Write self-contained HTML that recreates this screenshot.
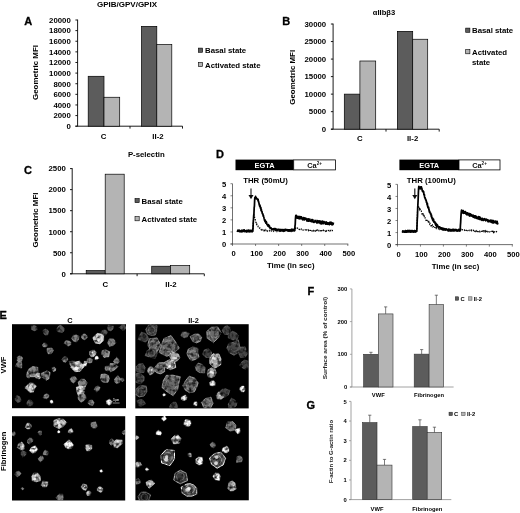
<!DOCTYPE html>
<html><head><meta charset="utf-8"><title>Figure</title>
<style>html,body{margin:0;padding:0;background:#fff}svg{display:block}text{font-family:"Liberation Sans",Arial,sans-serif}</style>
</head><body>
<svg width="520" height="513" viewBox="0 0 520 513">
<defs><filter id="b1" x="-5%" y="-5%" width="110%" height="110%"><feGaussianBlur stdDeviation="0.45"/></filter>
<filter id="tex" x="-2%" y="-2%" width="104%" height="104%"><feTurbulence type="fractalNoise" baseFrequency="0.28" numOctaves="2" seed="4" result="n"/><feColorMatrix in="n" type="matrix" values="0 0 0 0 0  0 0 0 0 0  0 0 0 0 0  2.2 0 0 0 -0.3" result="na"/><feComposite in="SourceGraphic" in2="na" operator="in"/><feGaussianBlur stdDeviation="0.6"/></filter>
<filter id="soft"><feGaussianBlur stdDeviation="0.3"/></filter></defs>
<rect width="520" height="513" fill="#fff"/>
<g filter="url(#soft)">
<text x="24.3" y="25.4" font-size="11" font-weight="bold" text-anchor="start" fill="#000" stroke="#000" stroke-width="0.3">A</text>
<text x="127" y="6.6" font-size="8" font-weight="bold" text-anchor="middle" fill="#000">GPIB/GPV/GPIX</text>
<text x="38.3" y="72.5" font-size="7.9" font-weight="bold" text-anchor="middle" fill="#000" transform="rotate(-90 38.3 72.5)">Geometric MFI</text>
<text x="70.8" y="129.01" font-size="7.8" font-weight="bold" text-anchor="end" fill="#000">0</text>
<text x="70.8" y="118.39" font-size="7.8" font-weight="bold" text-anchor="end" fill="#000">2000</text>
<text x="70.8" y="107.77" font-size="7.8" font-weight="bold" text-anchor="end" fill="#000">4000</text>
<text x="70.8" y="97.15" font-size="7.8" font-weight="bold" text-anchor="end" fill="#000">6000</text>
<text x="70.8" y="86.53" font-size="7.8" font-weight="bold" text-anchor="end" fill="#000">8000</text>
<text x="70.8" y="75.91" font-size="7.8" font-weight="bold" text-anchor="end" fill="#000">10000</text>
<text x="70.8" y="65.29" font-size="7.8" font-weight="bold" text-anchor="end" fill="#000">12000</text>
<text x="70.8" y="54.67" font-size="7.8" font-weight="bold" text-anchor="end" fill="#000">14000</text>
<text x="70.8" y="44.05" font-size="7.8" font-weight="bold" text-anchor="end" fill="#000">16000</text>
<text x="70.8" y="33.43" font-size="7.8" font-weight="bold" text-anchor="end" fill="#000">18000</text>
<text x="70.8" y="22.81" font-size="7.8" font-weight="bold" text-anchor="end" fill="#000">20000</text>
<line x1="77.6" y1="19.6" x2="77.6" y2="126.2" stroke="#000" stroke-width="0.9"/>
<line x1="75.39999999999999" y1="126.2" x2="77.6" y2="126.2" stroke="#000" stroke-width="0.9"/>
<line x1="75.39999999999999" y1="115.58" x2="77.6" y2="115.58" stroke="#000" stroke-width="0.9"/>
<line x1="75.39999999999999" y1="104.96000000000001" x2="77.6" y2="104.96000000000001" stroke="#000" stroke-width="0.9"/>
<line x1="75.39999999999999" y1="94.34" x2="77.6" y2="94.34" stroke="#000" stroke-width="0.9"/>
<line x1="75.39999999999999" y1="83.72" x2="77.6" y2="83.72" stroke="#000" stroke-width="0.9"/>
<line x1="75.39999999999999" y1="73.10000000000001" x2="77.6" y2="73.10000000000001" stroke="#000" stroke-width="0.9"/>
<line x1="75.39999999999999" y1="62.480000000000004" x2="77.6" y2="62.480000000000004" stroke="#000" stroke-width="0.9"/>
<line x1="75.39999999999999" y1="51.860000000000014" x2="77.6" y2="51.860000000000014" stroke="#000" stroke-width="0.9"/>
<line x1="75.39999999999999" y1="41.24000000000001" x2="77.6" y2="41.24000000000001" stroke="#000" stroke-width="0.9"/>
<line x1="75.39999999999999" y1="30.620000000000005" x2="77.6" y2="30.620000000000005" stroke="#000" stroke-width="0.9"/>
<line x1="75.39999999999999" y1="20.000000000000014" x2="77.6" y2="20.000000000000014" stroke="#000" stroke-width="0.9"/>
<line x1="75.39999999999999" y1="126.2" x2="182.5" y2="126.2" stroke="#000" stroke-width="0.9"/>
<line x1="130" y1="126.2" x2="130" y2="128.6" stroke="#000" stroke-width="0.9"/>
<line x1="182.5" y1="126.2" x2="182.5" y2="128.6" stroke="#000" stroke-width="0.9"/>
<rect x="88.20" y="76.29" width="15.80" height="49.91" fill="#5c5c5c" stroke="#000" stroke-width="0.7"/>
<rect x="104.00" y="97.26" width="15.70" height="28.94" fill="#b4b4b4" stroke="#000" stroke-width="0.7"/>
<rect x="141.50" y="26.37" width="15.30" height="99.83" fill="#5c5c5c" stroke="#000" stroke-width="0.7"/>
<rect x="156.80" y="44.43" width="15.00" height="81.77" fill="#b4b4b4" stroke="#000" stroke-width="0.7"/>
<text x="103.6" y="138.6" font-size="7.8" font-weight="bold" text-anchor="middle" fill="#000">C</text>
<text x="158" y="138.6" font-size="7.8" font-weight="bold" text-anchor="middle" fill="#000">II-2</text>
<rect x="198.40" y="48.10" width="4.20" height="4.20" fill="#5c5c5c" stroke="#000" stroke-width="0.6"/>
<text x="205" y="53.2" font-size="7.8" font-weight="bold" text-anchor="start" fill="#000">Basal state</text>
<rect x="198.40" y="62.40" width="4.20" height="4.20" fill="#b4b4b4" stroke="#000" stroke-width="0.6"/>
<text x="205" y="67.5" font-size="7.8" font-weight="bold" text-anchor="start" fill="#000">Activated state</text>
<text x="282.2" y="25.4" font-size="11" font-weight="bold" text-anchor="start" fill="#000" stroke="#000" stroke-width="0.3">B</text>
<text x="384" y="15.0" font-size="7.6" font-weight="bold" text-anchor="middle" fill="#000">αIIbβ3</text>
<text x="295.2" y="77.3" font-size="7.9" font-weight="bold" text-anchor="middle" fill="#000" transform="rotate(-90 295.2 77.3)">Geometric MFI</text>
<text x="326.2" y="132.01" font-size="7.8" font-weight="bold" text-anchor="end" fill="#000">0</text>
<text x="326.2" y="114.47" font-size="7.8" font-weight="bold" text-anchor="end" fill="#000">5000</text>
<text x="326.2" y="96.94" font-size="7.8" font-weight="bold" text-anchor="end" fill="#000">10000</text>
<text x="326.2" y="79.41" font-size="7.8" font-weight="bold" text-anchor="end" fill="#000">15000</text>
<text x="326.2" y="61.87" font-size="7.8" font-weight="bold" text-anchor="end" fill="#000">20000</text>
<text x="326.2" y="44.34" font-size="7.8" font-weight="bold" text-anchor="end" fill="#000">25000</text>
<text x="326.2" y="26.81" font-size="7.8" font-weight="bold" text-anchor="end" fill="#000">30000</text>
<line x1="333.1" y1="23.6" x2="333.1" y2="129.2" stroke="#000" stroke-width="0.9"/>
<line x1="330.90000000000003" y1="129.2" x2="333.1" y2="129.2" stroke="#000" stroke-width="0.9"/>
<line x1="330.90000000000003" y1="111.66999999999999" x2="333.1" y2="111.66999999999999" stroke="#000" stroke-width="0.9"/>
<line x1="330.90000000000003" y1="94.13999999999999" x2="333.1" y2="94.13999999999999" stroke="#000" stroke-width="0.9"/>
<line x1="330.90000000000003" y1="76.60999999999999" x2="333.1" y2="76.60999999999999" stroke="#000" stroke-width="0.9"/>
<line x1="330.90000000000003" y1="59.079999999999984" x2="333.1" y2="59.079999999999984" stroke="#000" stroke-width="0.9"/>
<line x1="330.90000000000003" y1="41.54999999999998" x2="333.1" y2="41.54999999999998" stroke="#000" stroke-width="0.9"/>
<line x1="330.90000000000003" y1="24.019999999999982" x2="333.1" y2="24.019999999999982" stroke="#000" stroke-width="0.9"/>
<line x1="330.90000000000003" y1="129.2" x2="439.2" y2="129.2" stroke="#000" stroke-width="0.9"/>
<line x1="386" y1="129.2" x2="386" y2="131.6" stroke="#000" stroke-width="0.9"/>
<line x1="439.2" y1="129.2" x2="439.2" y2="131.6" stroke="#000" stroke-width="0.9"/>
<rect x="344.30" y="94.13" width="15.60" height="35.07" fill="#5c5c5c" stroke="#000" stroke-width="0.7"/>
<rect x="359.90" y="61.00" width="15.80" height="68.20" fill="#b4b4b4" stroke="#000" stroke-width="0.7"/>
<rect x="397.40" y="31.36" width="15.30" height="97.84" fill="#5c5c5c" stroke="#000" stroke-width="0.7"/>
<rect x="412.70" y="39.25" width="15.00" height="89.95" fill="#b4b4b4" stroke="#000" stroke-width="0.7"/>
<text x="359.8" y="141.4" font-size="7.8" font-weight="bold" text-anchor="middle" fill="#000">C</text>
<text x="412.6" y="141.4" font-size="7.8" font-weight="bold" text-anchor="middle" fill="#000">II-2</text>
<rect x="465.70" y="28.10" width="4.20" height="4.20" fill="#5c5c5c" stroke="#000" stroke-width="0.6"/>
<text x="472" y="33.2" font-size="7.8" font-weight="bold" text-anchor="start" fill="#000">Basal state</text>
<rect x="465.70" y="49.60" width="4.20" height="4.20" fill="#b4b4b4" stroke="#000" stroke-width="0.6"/>
<text x="472" y="54.8" font-size="7.8" font-weight="bold" text-anchor="start" fill="#000">Activated</text>
<text x="472" y="64.6" font-size="7.8" font-weight="bold" text-anchor="start" fill="#000">state</text>
<text x="24" y="173.6" font-size="11" font-weight="bold" text-anchor="start" fill="#000" stroke="#000" stroke-width="0.3">C</text>
<text x="146.3" y="156.5" font-size="7.8" font-weight="bold" text-anchor="middle" fill="#000">P-selectin</text>
<text x="38.4" y="220" font-size="7.9" font-weight="bold" text-anchor="middle" fill="#000" transform="rotate(-90 38.4 220)">Geometric MFI</text>
<text x="65.9" y="276.61" font-size="7.8" font-weight="bold" text-anchor="end" fill="#000">0</text>
<text x="65.9" y="255.57" font-size="7.8" font-weight="bold" text-anchor="end" fill="#000">500</text>
<text x="65.9" y="234.53" font-size="7.8" font-weight="bold" text-anchor="end" fill="#000">1000</text>
<text x="65.9" y="213.49" font-size="7.8" font-weight="bold" text-anchor="end" fill="#000">1500</text>
<text x="65.9" y="192.45" font-size="7.8" font-weight="bold" text-anchor="end" fill="#000">2000</text>
<text x="65.9" y="171.41" font-size="7.8" font-weight="bold" text-anchor="end" fill="#000">2500</text>
<line x1="72.2" y1="168.2" x2="72.2" y2="273.8" stroke="#000" stroke-width="0.9"/>
<line x1="70.0" y1="273.8" x2="72.2" y2="273.8" stroke="#000" stroke-width="0.9"/>
<line x1="70.0" y1="252.76000000000002" x2="72.2" y2="252.76000000000002" stroke="#000" stroke-width="0.9"/>
<line x1="70.0" y1="231.72000000000003" x2="72.2" y2="231.72000000000003" stroke="#000" stroke-width="0.9"/>
<line x1="70.0" y1="210.68" x2="72.2" y2="210.68" stroke="#000" stroke-width="0.9"/>
<line x1="70.0" y1="189.64000000000001" x2="72.2" y2="189.64000000000001" stroke="#000" stroke-width="0.9"/>
<line x1="70.0" y1="168.60000000000002" x2="72.2" y2="168.60000000000002" stroke="#000" stroke-width="0.9"/>
<line x1="70.0" y1="273.8" x2="204.3" y2="273.8" stroke="#000" stroke-width="0.9"/>
<line x1="137.1" y1="273.8" x2="137.1" y2="276.2" stroke="#000" stroke-width="0.9"/>
<line x1="204.3" y1="273.8" x2="204.3" y2="276.2" stroke="#000" stroke-width="0.9"/>
<rect x="86.20" y="270.60" width="19.00" height="3.20" fill="#5c5c5c" stroke="#000" stroke-width="0.7"/>
<rect x="105.20" y="174.20" width="19.00" height="99.60" fill="#b4b4b4" stroke="#000" stroke-width="0.7"/>
<rect x="151.70" y="266.23" width="18.70" height="7.57" fill="#5c5c5c" stroke="#000" stroke-width="0.7"/>
<rect x="170.40" y="265.59" width="19.30" height="8.21" fill="#b4b4b4" stroke="#000" stroke-width="0.7"/>
<text x="105.2" y="286.8" font-size="7.8" font-weight="bold" text-anchor="middle" fill="#000">C</text>
<text x="171" y="286.8" font-size="7.8" font-weight="bold" text-anchor="middle" fill="#000">II-2</text>
<rect x="135.00" y="198.50" width="4.20" height="4.20" fill="#5c5c5c" stroke="#000" stroke-width="0.6"/>
<text x="141.6" y="203.6" font-size="7.8" font-weight="bold" text-anchor="start" fill="#000">Basal state</text>
<rect x="135.00" y="216.60" width="4.20" height="4.20" fill="#b4b4b4" stroke="#000" stroke-width="0.6"/>
<text x="141.6" y="221.7" font-size="7.8" font-weight="bold" text-anchor="start" fill="#000">Activated state</text>
<text x="216" y="157.8" font-size="11" font-weight="bold" text-anchor="start" fill="#000" stroke="#000" stroke-width="0.3">D</text>
<rect x="235.50" y="159.60" width="58.20" height="10.60" fill="#000"/>
<rect x="293.70" y="159.90" width="41.80" height="10.00" fill="#fff" stroke="#000" stroke-width="0.8"/>
<text x="264.6" y="167.6" font-size="7.4" font-weight="bold" text-anchor="middle" fill="#fff">EGTA</text>
<text x="314.6" y="167.7" font-size="7.4" font-weight="bold" text-anchor="middle" fill="#111" >Ca<tspan font-size="4.6" dy="-2.8">2+</tspan></text>
<line x1="232.5" y1="183.7" x2="232.5" y2="244" stroke="#333" stroke-width="0.7"/>
<line x1="230.5" y1="244.0" x2="232.5" y2="244.0" stroke="#333" stroke-width="0.6"/>
<text x="226.2" y="247.14" font-size="7.6" font-weight="bold" text-anchor="end" fill="#000">0</text>
<line x1="230.5" y1="231.94" x2="232.5" y2="231.94" stroke="#333" stroke-width="0.6"/>
<text x="226.2" y="235.08" font-size="7.6" font-weight="bold" text-anchor="end" fill="#000">1</text>
<line x1="230.5" y1="219.88" x2="232.5" y2="219.88" stroke="#333" stroke-width="0.6"/>
<text x="226.2" y="223.02" font-size="7.6" font-weight="bold" text-anchor="end" fill="#000">2</text>
<line x1="230.5" y1="207.82" x2="232.5" y2="207.82" stroke="#333" stroke-width="0.6"/>
<text x="226.2" y="210.96" font-size="7.6" font-weight="bold" text-anchor="end" fill="#000">3</text>
<line x1="230.5" y1="195.76" x2="232.5" y2="195.76" stroke="#333" stroke-width="0.6"/>
<text x="226.2" y="198.9" font-size="7.6" font-weight="bold" text-anchor="end" fill="#000">4</text>
<line x1="230.5" y1="183.7" x2="232.5" y2="183.7" stroke="#333" stroke-width="0.6"/>
<text x="226.2" y="186.84" font-size="7.6" font-weight="bold" text-anchor="end" fill="#000">5</text>
<line x1="230.5" y1="244" x2="348.3" y2="244" stroke="#333" stroke-width="0.7"/>
<line x1="232.5" y1="244" x2="232.5" y2="246" stroke="#333" stroke-width="0.6"/>
<text x="233.5" y="256" font-size="7.6" font-weight="bold" text-anchor="middle" fill="#000">0</text>
<line x1="255.56" y1="244" x2="255.56" y2="246" stroke="#333" stroke-width="0.6"/>
<text x="256.56" y="256" font-size="7.6" font-weight="bold" text-anchor="middle" fill="#000">100</text>
<line x1="278.62" y1="244" x2="278.62" y2="246" stroke="#333" stroke-width="0.6"/>
<text x="279.62" y="256" font-size="7.6" font-weight="bold" text-anchor="middle" fill="#000">200</text>
<line x1="301.68" y1="244" x2="301.68" y2="246" stroke="#333" stroke-width="0.6"/>
<text x="302.68" y="256" font-size="7.6" font-weight="bold" text-anchor="middle" fill="#000">300</text>
<line x1="324.74" y1="244" x2="324.74" y2="246" stroke="#333" stroke-width="0.6"/>
<text x="325.74" y="256" font-size="7.6" font-weight="bold" text-anchor="middle" fill="#000">400</text>
<line x1="347.8" y1="244" x2="347.8" y2="246" stroke="#333" stroke-width="0.6"/>
<text x="348.8" y="256" font-size="7.6" font-weight="bold" text-anchor="middle" fill="#000">500</text>
<text x="290.75" y="268.3" font-size="7.8" font-weight="bold" text-anchor="middle" fill="#000">Time (in sec)</text>
<text x="243.2" y="182.8" font-size="7.8" font-weight="bold" text-anchor="start" fill="#000">THR (50mU)</text>
<line x1="251" y1="188.4" x2="251" y2="196" stroke="#111" stroke-width="1.1"/>
<path d="M248.5,195 L253.5,195 L251,199.2 Z" fill="#111"/>
<polyline points="237.11,231.19 237.46,231.40 237.80,230.79 238.15,231.49 238.50,230.93 238.84,231.14 239.19,231.51 239.53,230.97 239.88,231.53 240.23,231.06 240.57,231.49 240.92,231.47 241.26,231.07 241.61,230.58 241.95,231.43 242.30,231.31 242.65,230.82 242.99,230.44 243.34,230.88 243.68,231.10 244.03,230.40 244.38,231.52 244.72,230.54 245.07,231.23 245.41,231.40 245.76,231.44 246.11,231.21 246.45,230.59 246.80,231.36 247.14,230.88 247.49,230.81 247.83,231.13 248.18,230.92 248.53,231.50 248.87,231.51 249.22,231.33 249.56,230.76 249.91,231.06 250.26,231.20 250.60,230.87 250.95,231.03 251.29,231.22 251.64,230.62 251.99,230.74 252.33,231.28 252.68,230.89 253.02,227.52 253.37,221.69 253.72,216.83 254.06,214.90 254.41,215.33 254.75,218.57 255.10,219.40 255.44,220.00 255.79,222.28 256.14,222.63 256.48,224.38 256.83,223.95 257.17,224.47 257.52,225.47 257.87,225.72 258.21,226.89 258.56,226.87 258.90,227.39 259.25,227.76 259.60,228.22 259.94,228.04 260.29,228.16 260.63,228.95 260.98,228.92 261.32,229.82 261.67,229.21 262.02,229.41 262.36,229.12 262.71,229.44 263.05,230.18 263.40,230.15 263.75,229.89 264.09,230.74 264.44,230.27 264.78,230.68 265.13,230.79 265.48,230.91 265.82,230.09 266.17,230.89 266.51,230.78 266.86,230.64 267.21,230.08 267.55,231.06 267.90,230.63 268.24,230.53 268.59,230.14 268.93,230.24 269.28,230.19 269.63,230.91 269.97,230.76 270.32,230.83 270.66,230.21 271.01,230.13 271.36,231.10 271.70,231.08 272.05,231.02 272.39,231.02 272.74,230.72 273.09,230.60 273.43,230.99 273.78,231.31 274.12,230.81 274.47,230.87 274.82,230.64 275.16,230.17 275.51,230.49 275.85,230.70 276.20,230.58 276.54,230.51 276.89,231.26 277.24,230.25 277.58,230.39 277.93,230.28 278.27,230.37 278.62,230.86 278.97,230.85 279.31,231.21 279.66,230.57 280.00,231.26 280.35,231.25 280.70,231.08 281.04,231.14 281.39,230.93 281.73,231.27 282.08,231.34 282.42,231.15 282.77,231.21 283.12,230.90 283.46,231.31 283.81,230.28 284.15,230.60 284.50,231.16 284.85,231.03 285.19,230.92 285.54,230.90 285.88,231.19 286.23,230.31 286.58,230.14 286.92,230.77 287.27,230.75 287.61,231.23 287.96,231.21 288.31,230.92 288.65,231.02 289.00,230.34 289.34,231.14 289.69,231.31 290.03,230.19 290.38,230.70 290.73,231.16 291.07,230.68 291.42,231.30 291.76,230.70 292.11,230.16 292.46,230.30 292.80,230.50 293.15,231.02 293.49,230.89 293.84,231.14 294.19,230.41 294.53,230.69 294.88,230.02 295.22,229.43 295.57,228.43 295.92,227.44 296.26,227.38 296.61,227.67 296.95,227.85 297.30,227.96 297.64,228.17 297.99,228.90 298.34,228.66 298.68,228.95 299.03,229.44 299.37,229.53 299.72,229.32 300.07,229.42 300.41,228.98 300.76,228.74 301.10,229.42 301.45,228.90 301.80,228.90 302.14,229.00 302.49,229.77 302.83,230.00 303.18,230.04 303.52,230.13 303.87,230.17 304.22,229.71 304.56,229.42 304.91,229.53 305.25,230.00 305.60,229.83 305.95,229.69 306.29,230.58 306.64,229.92 306.98,229.65 307.33,229.83 307.68,229.90 308.02,230.25 308.37,230.64 308.71,229.93 309.06,230.50 309.41,229.96 309.75,229.77 310.10,230.48 310.44,230.50 310.79,229.86 311.13,230.14 311.48,230.82 311.83,230.89 312.17,230.88 312.52,229.98 312.86,230.11 313.21,230.92 313.56,230.11 313.90,229.94 314.25,230.34 314.59,230.72 314.94,230.49 315.29,231.00 315.63,231.15 315.98,230.01 316.32,230.40 316.67,230.56 317.01,230.07 317.36,230.68 317.71,230.16 318.05,230.22 318.40,230.97 318.74,230.93 319.09,230.88 319.44,230.95 319.78,230.54 320.13,230.94 320.47,230.75 320.82,231.10 321.17,230.16 321.51,230.84 321.86,230.72 322.20,230.57 322.55,230.18 322.90,230.77 323.24,230.17 323.59,230.68 323.93,230.64 324.28,230.66 324.62,231.27 324.97,230.76 325.32,231.07 325.66,231.29 326.01,230.34 326.35,231.09 326.70,230.73 327.05,230.43 327.39,230.64 327.74,230.91 328.08,230.68 328.43,230.64 328.78,230.37 329.12,231.19 329.47,230.64 329.81,231.02 330.16,230.98 330.50,230.39 330.85,230.71 331.20,230.64 331.54,230.40 331.89,230.22 332.23,230.79 332.58,230.58 332.93,230.71 333.27,230.71" fill="none" stroke="#000" stroke-width="1.15" stroke-dasharray="1.5 1.2"/>
<polyline points="237.11,230.65 237.34,231.06 237.57,230.92 237.80,231.01 238.03,230.23 238.26,230.64 238.50,230.34 238.73,230.23 238.96,231.38 239.19,230.87 239.42,230.23 239.65,230.40 239.88,231.59 240.11,231.61 240.34,231.07 240.57,231.70 240.80,231.41 241.03,231.70 241.26,230.69 241.49,230.50 241.72,230.30 241.95,231.56 242.19,230.61 242.42,230.70 242.65,231.58 242.88,230.33 243.11,230.19 243.34,231.45 243.57,230.21 243.80,231.15 244.03,231.00 244.26,230.15 244.49,230.41 244.72,231.55 244.95,231.09 245.18,230.95 245.41,231.25 245.64,231.49 245.87,231.28 246.11,230.60 246.34,231.79 246.57,230.88 246.80,231.08 247.03,231.79 247.26,231.26 247.49,230.77 247.72,230.95 247.95,231.71 248.18,230.16 248.41,230.49 248.64,230.18 248.87,231.64 249.10,231.37 249.33,231.75 249.56,230.50 249.80,231.36 250.03,231.60 250.26,231.11 250.49,230.28 250.72,230.44 250.95,231.38 251.18,231.57 251.41,230.27 251.64,230.86 251.87,230.64 252.10,231.67 252.33,231.72 252.56,230.66 252.79,231.10 253.02,227.99 253.25,222.37 253.48,219.48 253.72,215.31 253.95,213.54 254.18,207.74 254.41,206.16 254.64,200.30 254.87,197.69 255.10,198.00 255.33,197.43 255.56,196.42 255.79,198.20 256.02,198.57 256.25,197.50 256.48,198.28 256.71,198.62 256.94,198.66 257.17,199.29 257.40,199.30 257.64,199.48 257.87,200.05 258.10,199.41 258.33,201.30 258.56,201.39 258.79,202.95 259.02,203.20 259.25,204.81 259.48,204.92 259.71,206.31 259.94,205.12 260.17,206.37 260.40,208.11 260.63,208.09 260.86,207.60 261.09,210.59 261.32,209.40 261.56,211.18 261.79,211.73 262.02,211.52 262.25,213.41 262.48,213.79 262.71,213.97 262.94,213.83 263.17,216.19 263.40,215.49 263.63,216.44 263.86,217.21 264.09,218.41 264.32,219.12 264.55,220.44 264.78,220.76 265.01,221.42 265.25,220.09 265.48,221.86 265.71,222.56 265.94,223.20 266.17,221.57 266.40,221.89 266.63,222.81 266.86,224.23 267.09,224.68 267.32,224.88 267.55,224.75 267.78,225.87 268.01,225.38 268.24,226.15 268.47,224.53 268.70,225.23 268.93,226.19 269.17,226.93 269.40,225.92 269.63,227.24 269.86,227.35 270.09,228.14 270.32,227.67 270.55,227.68 270.78,227.78 271.01,228.44 271.24,228.07 271.47,229.04 271.70,228.73 271.93,229.14 272.16,228.73 272.39,229.43 272.62,229.56 272.86,229.18 273.09,229.39 273.32,228.87 273.55,229.04 273.78,228.74 274.01,228.96 274.24,228.93 274.47,228.71 274.70,229.59 274.93,229.75 275.16,228.69 275.39,230.14 275.62,229.21 275.85,229.39 276.08,230.44 276.31,229.14 276.54,229.07 276.78,229.55 277.01,229.40 277.24,229.29 277.47,230.45 277.70,229.82 277.93,229.87 278.16,229.34 278.39,229.40 278.62,229.38 278.85,229.81 279.08,229.30 279.31,229.67 279.54,229.66 279.77,230.46 280.00,230.80 280.23,230.64 280.46,230.27 280.70,230.71 280.93,229.48 281.16,229.95 281.39,229.84 281.62,229.85 281.85,229.77 282.08,230.09 282.31,230.92 282.54,229.58 282.77,229.67 283.00,230.09 283.23,230.04 283.46,229.83 283.69,230.83 283.92,229.70 284.15,230.52 284.38,230.83 284.62,230.51 284.85,229.72 285.08,230.61 285.31,229.71 285.54,229.31 285.77,230.13 286.00,230.32 286.23,230.16 286.46,229.81 286.69,229.67 286.92,229.93 287.15,229.88 287.38,230.84 287.61,230.72 287.84,230.54 288.07,229.72 288.31,230.46 288.54,230.01 288.77,230.95 289.00,230.87 289.23,230.52 289.46,229.84 289.69,229.80 289.92,229.83 290.15,230.48 290.38,230.10 290.61,230.19 290.84,230.19 291.07,230.77 291.30,229.47 291.53,230.64 291.76,229.32 291.99,229.39 292.23,230.94 292.46,230.20 292.69,229.59 292.92,229.34 293.15,230.22 293.38,230.52 293.61,230.62 293.84,229.38 294.07,230.62 294.30,229.99 294.53,230.74 294.76,230.45 294.99,226.17 295.22,224.37 295.45,218.95 295.68,216.24 295.92,215.30 296.15,215.89 296.38,217.25 296.61,215.53 296.84,216.73 297.07,218.06 297.30,218.20 297.53,216.96 297.76,217.15 297.99,217.64 298.22,218.15 298.45,217.68 298.68,217.83 298.91,216.50 299.14,218.84 299.37,216.89 299.60,216.73 299.84,218.74 300.07,216.64 300.30,217.29 300.53,216.85 300.76,218.58 300.99,218.43 301.22,218.44 301.45,216.88 301.68,218.05 301.91,218.74 302.14,218.62 302.37,219.11 302.60,219.79 302.83,219.71 303.06,217.79 303.29,219.34 303.52,217.65 303.76,219.57 303.99,219.59 304.22,218.99 304.45,219.92 304.68,219.48 304.91,217.97 305.14,218.23 305.37,218.48 305.60,219.03 305.83,218.33 306.06,218.31 306.29,219.43 306.52,219.02 306.75,220.89 306.98,219.10 307.21,219.92 307.44,219.16 307.68,219.51 307.91,220.53 308.14,221.22 308.37,218.91 308.60,221.12 308.83,220.24 309.06,220.64 309.29,220.81 309.52,219.67 309.75,219.08 309.98,221.07 310.21,220.05 310.44,221.06 310.67,220.41 310.90,220.90 311.13,221.56 311.37,221.62 311.60,221.55 311.83,219.71 312.06,220.86 312.29,221.65 312.52,219.84 312.75,219.65 312.98,221.17 313.21,222.05 313.44,221.95 313.67,222.27 313.90,221.63 314.13,222.35 314.36,221.99 314.59,221.98 314.82,221.19 315.05,220.37 315.29,220.78 315.52,221.73 315.75,221.77 315.98,221.51 316.21,221.95 316.44,222.09 316.67,222.87 316.90,222.33 317.13,220.50 317.36,222.82 317.59,221.83 317.82,221.53 318.05,220.94 318.28,222.72 318.51,222.61 318.74,222.70 318.98,222.33 319.21,222.24 319.44,220.90 319.67,221.22 319.90,221.19 320.13,223.52 320.36,223.53 320.59,221.73 320.82,221.26 321.05,222.43 321.28,222.16 321.51,223.77 321.74,222.75 321.97,221.33 322.20,221.64 322.43,221.59 322.66,221.30 322.90,223.29 323.13,223.70 323.36,223.60 323.59,222.64 323.82,222.24 324.05,221.56 324.28,222.19 324.51,222.42 324.74,222.13 324.97,222.98 325.20,222.76 325.43,224.17 325.66,222.19 325.89,223.70 326.12,221.87 326.35,222.64 326.58,223.59 326.82,224.09 327.05,223.78 327.28,222.77 327.51,222.62 327.74,224.23 327.97,224.37 328.20,223.17 328.43,223.03 328.66,223.58 328.89,224.05 329.12,223.05 329.35,224.67 329.58,223.91 329.81,223.50 330.04,222.18 330.27,223.05 330.50,222.43 330.74,223.55 330.97,224.23 331.20,224.21 331.43,222.31 331.66,223.02 331.89,224.12 332.12,224.91 332.35,223.64 332.58,223.19 332.81,223.89 333.04,224.35 333.27,223.27 333.50,222.59" fill="none" stroke="#000" stroke-width="1.75" stroke-linejoin="round"/>
<rect x="399.40" y="159.60" width="59.60" height="10.60" fill="#000"/>
<rect x="459.00" y="159.90" width="41.00" height="10.00" fill="#fff" stroke="#000" stroke-width="0.8"/>
<text x="429.2" y="167.6" font-size="7.4" font-weight="bold" text-anchor="middle" fill="#fff">EGTA</text>
<text x="479.5" y="167.7" font-size="7.4" font-weight="bold" text-anchor="middle" fill="#111" >Ca<tspan font-size="4.6" dy="-2.8">2+</tspan></text>
<line x1="397.5" y1="184.4" x2="397.5" y2="244.6" stroke="#333" stroke-width="0.7"/>
<line x1="395.5" y1="244.6" x2="397.5" y2="244.6" stroke="#333" stroke-width="0.6"/>
<text x="391.2" y="247.74" font-size="7.6" font-weight="bold" text-anchor="end" fill="#000">0</text>
<line x1="395.5" y1="232.56" x2="397.5" y2="232.56" stroke="#333" stroke-width="0.6"/>
<text x="391.2" y="235.7" font-size="7.6" font-weight="bold" text-anchor="end" fill="#000">1</text>
<line x1="395.5" y1="220.52" x2="397.5" y2="220.52" stroke="#333" stroke-width="0.6"/>
<text x="391.2" y="223.66" font-size="7.6" font-weight="bold" text-anchor="end" fill="#000">2</text>
<line x1="395.5" y1="208.48000000000002" x2="397.5" y2="208.48000000000002" stroke="#333" stroke-width="0.6"/>
<text x="391.2" y="211.62" font-size="7.6" font-weight="bold" text-anchor="end" fill="#000">3</text>
<line x1="395.5" y1="196.44" x2="397.5" y2="196.44" stroke="#333" stroke-width="0.6"/>
<text x="391.2" y="199.58" font-size="7.6" font-weight="bold" text-anchor="end" fill="#000">4</text>
<line x1="395.5" y1="184.4" x2="397.5" y2="184.4" stroke="#333" stroke-width="0.6"/>
<text x="391.2" y="187.54" font-size="7.6" font-weight="bold" text-anchor="end" fill="#000">5</text>
<line x1="395.5" y1="244.6" x2="512.8" y2="244.6" stroke="#333" stroke-width="0.7"/>
<line x1="397.5" y1="244.6" x2="397.5" y2="246.6" stroke="#333" stroke-width="0.6"/>
<text x="398.5" y="256.6" font-size="7.6" font-weight="bold" text-anchor="middle" fill="#000">0</text>
<line x1="420.46" y1="244.6" x2="420.46" y2="246.6" stroke="#333" stroke-width="0.6"/>
<text x="421.46" y="256.6" font-size="7.6" font-weight="bold" text-anchor="middle" fill="#000">100</text>
<line x1="443.41999999999996" y1="244.6" x2="443.41999999999996" y2="246.6" stroke="#333" stroke-width="0.6"/>
<text x="444.42" y="256.6" font-size="7.6" font-weight="bold" text-anchor="middle" fill="#000">200</text>
<line x1="466.38" y1="244.6" x2="466.38" y2="246.6" stroke="#333" stroke-width="0.6"/>
<text x="467.38" y="256.6" font-size="7.6" font-weight="bold" text-anchor="middle" fill="#000">300</text>
<line x1="489.34" y1="244.6" x2="489.34" y2="246.6" stroke="#333" stroke-width="0.6"/>
<text x="490.34" y="256.6" font-size="7.6" font-weight="bold" text-anchor="middle" fill="#000">400</text>
<line x1="512.3" y1="244.6" x2="512.3" y2="246.6" stroke="#333" stroke-width="0.6"/>
<text x="513.3" y="256.6" font-size="7.6" font-weight="bold" text-anchor="middle" fill="#000">500</text>
<text x="455.5" y="268.9" font-size="7.8" font-weight="bold" text-anchor="middle" fill="#000">Time (in sec)</text>
<text x="406.8" y="182.8" font-size="7.8" font-weight="bold" text-anchor="start" fill="#000">THR (100mU)</text>
<line x1="414.8" y1="188.4" x2="414.8" y2="196" stroke="#111" stroke-width="1.1"/>
<path d="M412.3,195 L417.3,195 L414.8,199.2 Z" fill="#111"/>
<polyline points="402.09,231.68 402.44,231.92 402.78,231.55 403.13,231.45 403.47,231.14 403.81,231.72 404.16,231.00 404.50,231.07 404.85,231.35 405.19,231.71 405.54,230.79 405.88,231.58 406.22,230.97 406.57,231.68 406.91,231.69 407.26,231.04 407.60,231.60 407.95,230.81 408.29,231.36 408.64,231.73 408.98,231.69 409.32,231.46 409.67,231.16 410.01,230.82 410.36,231.78 410.70,231.48 411.05,231.70 411.39,230.79 411.74,231.79 412.08,231.90 412.42,231.89 412.77,231.48 413.11,230.88 413.46,230.89 413.80,231.08 414.15,230.76 414.49,230.84 414.83,231.56 415.18,231.73 415.52,230.83 415.87,231.06 416.21,231.92 416.56,231.16 416.90,228.19 417.25,218.35 417.59,208.50 417.93,205.80 418.28,206.69 418.62,206.79 418.97,207.32 419.31,206.84 419.66,209.13 420.00,208.21 420.35,210.36 420.69,210.77 421.03,210.55 421.38,211.23 421.72,212.64 422.07,214.03 422.41,213.85 422.76,214.66 423.10,214.22 423.44,216.21 423.79,216.46 424.13,215.99 424.48,218.21 424.82,218.00 425.17,217.74 425.51,218.33 425.86,220.21 426.20,220.68 426.54,221.08 426.89,219.86 427.23,221.56 427.58,221.02 427.92,221.12 428.27,222.58 428.61,223.07 428.96,222.10 429.30,223.09 429.64,224.10 429.99,223.54 430.33,224.61 430.68,224.98 431.02,225.78 431.37,224.59 431.71,224.54 432.05,225.33 432.40,224.97 432.74,226.96 433.09,226.77 433.43,226.52 433.78,226.12 434.12,226.31 434.47,227.18 434.81,227.51 435.15,227.46 435.50,227.55 435.84,227.18 436.19,228.22 436.53,227.61 436.88,227.82 437.22,227.85 437.57,228.03 437.91,228.34 438.25,228.79 438.60,228.91 438.94,228.96 439.29,228.55 439.63,229.49 439.98,229.43 440.32,228.85 440.66,229.53 441.01,229.83 441.35,229.94 441.70,229.38 442.04,229.72 442.39,229.00 442.73,229.17 443.08,229.10 443.42,230.03 443.76,230.30 444.11,230.33 444.45,229.89 444.80,229.68 445.14,230.04 445.49,230.34 445.83,230.16 446.18,229.95 446.52,229.92 446.86,229.86 447.21,229.77 447.55,230.02 447.90,230.70 448.24,229.86 448.59,230.55 448.93,230.24 449.27,230.50 449.62,230.08 449.96,230.75 450.31,230.71 450.65,230.73 451.00,230.86 451.34,230.00 451.69,230.38 452.03,230.70 452.37,230.63 452.72,229.93 453.06,230.52 453.41,230.87 453.75,230.18 454.10,230.38 454.44,229.98 454.79,231.06 455.13,230.62 455.47,230.22 455.82,230.20 456.16,230.12 456.51,231.18 456.85,230.88 457.20,231.10 457.54,231.02 457.88,230.08 458.23,230.56 458.57,230.15 458.92,230.82 459.26,230.23 459.61,230.74 459.95,230.97 460.30,228.64 460.64,228.51 460.98,229.59 461.33,229.07 461.67,229.11 462.02,229.66 462.36,229.55 462.71,229.88 463.05,229.87 463.40,229.87 463.74,229.51 464.08,229.51 464.43,230.10 464.77,230.39 465.12,230.06 465.46,229.69 465.81,230.34 466.15,230.23 466.49,230.41 466.84,229.75 467.18,230.09 467.53,230.72 467.87,230.72 468.22,230.40 468.56,230.26 468.91,230.19 469.25,230.89 469.59,230.84 469.94,230.24 470.28,230.62 470.63,230.81 470.97,230.81 471.32,230.07 471.66,230.88 472.01,230.60 472.35,230.89 472.69,230.84 473.04,230.34 473.38,230.21 473.73,231.00 474.07,231.22 474.42,230.61 474.76,231.27 475.10,231.53 475.45,230.48 475.79,231.08 476.14,230.63 476.48,231.15 476.83,230.60 477.17,231.13 477.52,231.51 477.86,231.71 478.20,231.08 478.55,231.00 478.89,230.69 479.24,231.70 479.58,231.07 479.93,231.40 480.27,231.25 480.62,231.70 480.96,231.55 481.30,231.28 481.65,230.81 481.99,231.81 482.34,231.37 482.68,231.00 483.03,230.82 483.37,231.76 483.71,231.86 484.06,230.89 484.40,230.87 484.75,231.47 485.09,232.00 485.44,230.96 485.78,231.62 486.13,231.01 486.47,231.37 486.81,231.13 487.16,231.94 487.50,231.20 487.85,231.89 488.19,231.68 488.54,231.16 488.88,231.19 489.23,231.97 489.57,231.94 489.91,231.73 490.26,231.60 490.60,231.77 490.95,232.09 491.29,231.95 491.64,231.38 491.98,231.18 492.32,232.22 492.67,231.60 493.01,231.37 493.36,232.24 493.70,231.29 494.05,232.16 494.39,231.59 494.74,231.65 495.08,231.57 495.42,231.96 495.77,231.83 496.11,231.64 496.46,231.83 496.80,231.56 497.15,231.82 497.49,231.83 497.84,232.34" fill="none" stroke="#000" stroke-width="1.15" stroke-dasharray="1.5 1.2"/>
<polyline points="402.09,231.16 402.32,231.37 402.55,231.80 402.78,230.91 403.01,230.88 403.24,231.43 403.47,231.90 403.70,231.40 403.93,232.02 404.16,231.98 404.39,231.47 404.62,232.04 404.85,231.45 405.08,231.34 405.31,232.13 405.54,231.13 405.77,232.06 406.00,230.96 406.22,230.89 406.45,231.34 406.68,232.11 406.91,231.35 407.14,231.56 407.37,230.60 407.60,231.97 407.83,230.75 408.06,230.52 408.29,230.96 408.52,230.83 408.75,231.87 408.98,230.54 409.21,231.37 409.44,230.59 409.67,230.65 409.90,231.92 410.13,230.87 410.36,230.63 410.59,232.09 410.82,231.61 411.05,230.92 411.28,231.93 411.51,230.69 411.74,231.74 411.96,230.82 412.19,231.96 412.42,231.35 412.65,230.65 412.88,231.85 413.11,231.76 413.34,231.35 413.57,231.66 413.80,232.14 414.03,231.89 414.26,231.93 414.49,230.62 414.72,231.05 414.95,230.69 415.18,231.91 415.41,230.88 415.64,232.00 415.87,231.30 416.10,231.13 416.33,231.59 416.56,230.73 416.79,231.26 417.02,225.69 417.25,219.43 417.48,216.08 417.70,208.23 417.93,203.77 418.16,198.95 418.39,192.42 418.62,188.41 418.85,186.45 419.08,187.56 419.31,188.15 419.54,187.06 419.77,187.93 420.00,188.64 420.23,187.11 420.46,188.99 420.69,186.91 420.92,188.44 421.15,187.50 421.38,186.78 421.61,188.13 421.84,188.27 422.07,189.61 422.30,190.89 422.53,191.29 422.76,191.50 422.99,190.79 423.22,191.87 423.44,192.26 423.67,191.86 423.90,194.58 424.13,194.99 424.36,194.53 424.59,196.94 424.82,197.70 425.05,197.48 425.28,198.88 425.51,198.95 425.74,200.05 425.97,199.83 426.20,200.56 426.43,202.35 426.66,201.97 426.89,203.12 427.12,204.78 427.35,203.36 427.58,205.96 427.81,206.94 428.04,207.81 428.27,207.06 428.50,207.13 428.73,208.07 428.96,209.77 429.18,210.82 429.41,212.16 429.64,211.11 429.87,211.97 430.10,213.16 430.33,212.98 430.56,214.13 430.79,213.38 431.02,214.50 431.25,216.37 431.48,215.15 431.71,218.00 431.94,217.21 432.17,218.05 432.40,218.99 432.63,219.95 432.86,218.47 433.09,220.99 433.32,219.97 433.55,219.34 433.78,221.90 434.01,222.14 434.24,221.42 434.47,222.07 434.70,222.06 434.92,221.94 435.15,224.00 435.38,223.95 435.61,224.28 435.84,225.26 436.07,223.28 436.30,223.84 436.53,224.29 436.76,226.45 436.99,224.44 437.22,224.94 437.45,225.92 437.68,225.39 437.91,226.37 438.14,227.18 438.37,227.29 438.60,227.26 438.83,227.76 439.06,227.42 439.29,226.88 439.52,227.13 439.75,227.02 439.98,227.38 440.21,228.26 440.44,227.90 440.66,228.22 440.89,227.73 441.12,228.29 441.35,228.82 441.58,228.29 441.81,227.83 442.04,229.18 442.27,228.15 442.50,229.68 442.73,229.34 442.96,229.46 443.19,228.67 443.42,228.39 443.65,228.79 443.88,229.55 444.11,228.67 444.34,229.65 444.57,229.85 444.80,228.77 445.03,229.28 445.26,229.21 445.49,229.30 445.72,228.81 445.95,229.70 446.18,229.11 446.40,229.38 446.63,229.13 446.86,229.87 447.09,229.41 447.32,229.69 447.55,230.16 447.78,230.34 448.01,229.67 448.24,230.60 448.47,229.22 448.70,230.53 448.93,230.74 449.16,230.62 449.39,229.25 449.62,230.24 449.85,230.60 450.08,230.80 450.31,230.79 450.54,229.70 450.77,229.81 451.00,229.71 451.23,229.65 451.46,230.79 451.69,229.91 451.92,230.30 452.14,229.54 452.37,229.54 452.60,229.43 452.83,230.82 453.06,229.48 453.29,229.40 453.52,229.35 453.75,230.77 453.98,230.61 454.21,230.77 454.44,230.90 454.67,229.53 454.90,229.60 455.13,229.90 455.36,229.58 455.59,229.91 455.82,230.49 456.05,230.81 456.28,230.81 456.51,229.70 456.74,230.63 456.97,230.44 457.20,230.27 457.43,230.95 457.66,230.55 457.88,230.51 458.11,229.78 458.34,230.37 458.57,230.45 458.80,229.36 459.03,230.14 459.26,229.55 459.49,229.95 459.72,230.94 459.95,230.29 460.18,230.26 460.41,225.44 460.64,222.62 460.87,217.68 461.10,214.16 461.33,211.65 461.56,210.03 461.79,212.23 462.02,210.38 462.25,212.25 462.48,212.83 462.71,212.40 462.94,211.00 463.17,210.54 463.40,213.28 463.62,212.08 463.85,212.19 464.08,211.48 464.31,213.24 464.54,212.51 464.77,213.02 465.00,211.82 465.23,213.47 465.46,211.73 465.69,213.62 465.92,213.91 466.15,212.71 466.38,213.36 466.61,214.51 466.84,213.19 467.07,214.79 467.30,212.99 467.53,213.33 467.76,213.19 467.99,213.72 468.22,214.55 468.45,214.53 468.68,214.64 468.91,213.40 469.14,215.67 469.36,213.60 469.59,216.02 469.82,215.63 470.05,215.57 470.28,213.94 470.51,215.11 470.74,215.53 470.97,214.26 471.20,216.11 471.43,215.58 471.66,215.48 471.89,214.97 472.12,215.06 472.35,215.44 472.58,216.33 472.81,216.47 473.04,217.02 473.27,215.25 473.50,215.83 473.73,215.70 473.96,217.32 474.19,216.68 474.42,215.86 474.65,216.47 474.88,217.77 475.10,216.94 475.33,215.88 475.56,217.71 475.79,217.91 476.02,217.70 476.25,216.69 476.48,216.39 476.71,218.33 476.94,218.40 477.17,218.23 477.40,218.09 477.63,217.64 477.86,218.69 478.09,218.31 478.32,218.76 478.55,216.71 478.78,217.45 479.01,219.21 479.24,216.96 479.47,219.36 479.70,218.67 479.93,217.12 480.16,217.70 480.39,217.93 480.62,218.81 480.84,219.52 481.07,218.40 481.30,219.90 481.53,219.70 481.76,219.27 481.99,220.29 482.22,219.37 482.45,218.38 482.68,218.71 482.91,219.30 483.14,219.00 483.37,219.52 483.60,220.45 483.83,219.27 484.06,219.87 484.29,219.03 484.52,218.64 484.75,219.99 484.98,219.66 485.21,219.25 485.44,220.19 485.67,220.77 485.90,219.50 486.13,219.13 486.36,219.48 486.58,219.73 486.81,219.38 487.04,219.90 487.27,220.06 487.50,220.63 487.73,221.06 487.96,220.27 488.19,221.75 488.42,220.94 488.65,220.02 488.88,220.26 489.11,220.54 489.34,221.61 489.57,221.20 489.80,221.17 490.03,220.77 490.26,221.40 490.49,220.73 490.72,220.09 490.95,222.16 491.18,220.94 491.41,220.66 491.64,221.76 491.87,221.53 492.10,220.28 492.32,222.85 492.55,221.54 492.78,222.62 493.01,220.99 493.24,220.61 493.47,221.79 493.70,222.97 493.93,221.74 494.16,221.88 494.39,221.45 494.62,222.05 494.85,221.75 495.08,221.28 495.31,222.16 495.54,222.50 495.77,221.10 496.00,223.13 496.23,221.89 496.46,222.73 496.69,221.77 496.92,223.54 497.15,221.26 497.38,223.00 497.61,223.84 497.84,223.30 498.06,223.00" fill="none" stroke="#000" stroke-width="1.75" stroke-linejoin="round"/>
<text x="-0.4" y="318.8" font-size="11" font-weight="bold" text-anchor="start" fill="#000" stroke="#000" stroke-width="0.3">E</text>
<text x="70" y="322.6" font-size="7.4" font-weight="bold" text-anchor="middle" fill="#000">C</text>
<text x="193.5" y="322.6" font-size="7.4" font-weight="bold" text-anchor="middle" fill="#000">II-2</text>
<text x="5.7" y="365" font-size="7.6" font-weight="bold" text-anchor="middle" fill="#000" transform="rotate(-90 5.7 365)">VWF</text>
<text x="6.1" y="451.3" font-size="7.6" font-weight="bold" text-anchor="middle" fill="#000" transform="rotate(-90 6.1 451.3)">Fibrinogen</text>
<clipPath id="c0"><rect x="12" y="324.2" width="114" height="84"/></clipPath>
<rect x="12.00" y="324.20" width="114.00" height="84.00" fill="#050505"/>
<clipPath id="c1"><rect x="135.3" y="324.2" width="113.4" height="84.2"/></clipPath>
<rect x="135.30" y="324.20" width="113.40" height="84.20" fill="#050505"/>
<clipPath id="c2"><rect x="12" y="416.2" width="113.2" height="84.3"/></clipPath>
<rect x="12.00" y="416.20" width="113.20" height="84.30" fill="#050505"/>
<clipPath id="c3"><rect x="135.4" y="416" width="113.4" height="84.3"/></clipPath>
<rect x="135.40" y="416.00" width="113.40" height="84.30" fill="#050505"/>
<g clip-path="url(#c0)"><g filter="url(#tex)">
<polygon points="37.3,329.4 34.4,330.9 31.6,329.5 31.5,326.4 34.1,325.5 36.4,326.4" fill="rgb(86,86,86)" stroke="rgb(169,169,169)" stroke-width="0.3" stroke-linejoin="round"/>
<polygon points="48.5,331.3 48.2,333.2 47.5,335.2 45.4,335.1 44.0,334.0 43.5,332.5 43.2,330.4 45.1,329.1 47.3,329.7" fill="rgb(86,86,86)" stroke="rgb(169,169,169)" stroke-width="0.3" stroke-linejoin="round"/>
<polygon points="58.5,326.1 60.9,325.1 62.6,326.9 64.4,328.4 64.2,331.0 62.1,332.6 59.6,332.0 57.1,331.0 57.1,328.3" fill="rgb(86,86,86)" stroke="rgb(169,169,169)" stroke-width="0.3" stroke-linejoin="round"/>
<polygon points="76.4,334.9 79.2,336.4 78.5,339.4 76.8,341.8 73.6,341.2 71.6,338.4 73.4,335.4" fill="rgb(132,132,132)" stroke="rgb(238,238,238)" stroke-width="0.3" stroke-linejoin="round"/>
<polygon points="87.5,337.1 86.2,338.7 84.7,339.5 83.0,339.2 81.6,337.9 81.7,336.0 82.8,334.3 84.9,333.9 86.4,335.3" fill="rgb(132,132,132)" stroke="rgb(238,238,238)" stroke-width="0.3" stroke-linejoin="round"/>
<polygon points="69.1,341.0 71.0,342.4 70.5,344.9 68.1,346.1 66.3,344.7 64.4,343.2 65.3,340.9 67.4,340.6" fill="rgb(132,132,132)" stroke="rgb(238,238,238)" stroke-width="0.3" stroke-linejoin="round"/>
<polygon points="99.9,343.7 95.1,342.9 92.9,337.7 97.3,333.5 103.6,334.5 103.5,340.6" fill="rgb(205,205,205)" stroke="rgb(255,255,255)" stroke-width="0.7" stroke-linejoin="round"/>
<circle cx="98.8" cy="339.3" r="3.3" fill="none" stroke="rgb(255,255,255)" stroke-width="0.6" stroke-opacity="0.7"/>
<polygon points="109.2,338.8 113.7,339.0 116.0,342.8 113.1,345.6 109.4,346.4 107.6,342.8" fill="rgb(132,132,132)" stroke="rgb(238,238,238)" stroke-width="0.3" stroke-linejoin="round"/>
<polygon points="103.1,330.4 104.7,330.1 106.4,330.7 107.5,332.5 106.3,334.3 104.6,335.3 102.7,334.8 100.9,333.5 101.3,331.2" fill="rgb(86,86,86)" stroke="rgb(169,169,169)" stroke-width="0.3" stroke-linejoin="round"/>
<polygon points="107.5,327.8 108.2,325.2 110.9,325.7 113.4,326.3 113.0,329.0 111.1,330.7 108.5,330.3" fill="rgb(86,86,86)" stroke="rgb(169,169,169)" stroke-width="0.3" stroke-linejoin="round"/>
<polygon points="121.0,329.0 119.5,327.3 121.1,325.7 122.2,324.0 124.3,324.2 125.0,326.1 125.9,327.8 124.8,329.6 122.7,330.5" fill="rgb(86,86,86)" stroke="rgb(169,169,169)" stroke-width="0.3" stroke-linejoin="round"/>
<polygon points="45.3,343.2 46.8,344.0 47.1,346.0 45.4,346.8 43.9,346.9 42.5,345.9 42.8,344.3 43.8,343.3" fill="rgb(132,132,132)" stroke="rgb(238,238,238)" stroke-width="0.3" stroke-linejoin="round"/>
<polygon points="48.3,354.0 47.0,351.5 47.0,348.6 49.8,347.9 52.1,348.2 53.3,350.2 52.6,352.2 51.0,353.7" fill="rgb(132,132,132)" stroke="rgb(238,238,238)" stroke-width="0.3" stroke-linejoin="round"/>
<polygon points="94.5,350.4 96.2,352.2 95.6,354.6 94.0,356.4 91.1,356.9 89.5,354.3 89.6,351.4 92.1,350.3" fill="rgb(205,205,205)" stroke="rgb(255,255,255)" stroke-width="0.3" stroke-linejoin="round"/>
<polygon points="105.7,349.9 109.6,351.7 108.8,356.7 104.1,357.5 101.8,354.2 102.1,350.6" fill="rgb(132,132,132)" stroke="rgb(238,238,238)" stroke-width="0.5" stroke-linejoin="round"/>
<polygon points="98.6,358.4 96.9,359.6 94.9,359.3 95.1,357.4 96.1,355.9 97.9,356.5" fill="rgb(255,255,255)" stroke="rgb(255,255,255)" stroke-width="0.3" stroke-linejoin="round"/>
<polygon points="17.4,357.0 19.3,355.9 21.3,356.4 22.7,358.0 22.0,359.9 21.2,361.8 19.1,361.8 17.1,361.0 17.4,358.9" fill="rgb(132,132,132)" stroke="rgb(238,238,238)" stroke-width="0.3" stroke-linejoin="round"/>
<polygon points="21.4,362.3 21.9,364.9 21.5,368.1 18.5,367.1 15.5,366.2 16.8,363.3 18.7,361.7" fill="rgb(132,132,132)" stroke="rgb(238,238,238)" stroke-width="0.3" stroke-linejoin="round"/>
<polygon points="67.0,357.6 67.6,359.2 67.1,360.8 65.6,362.4 63.5,361.7 61.9,359.7 63.2,357.5 65.2,356.5" fill="rgb(132,132,132)" stroke="rgb(238,238,238)" stroke-width="0.3" stroke-linejoin="round"/>
<polygon points="90.0,358.1 92.5,359.6 91.7,362.5 89.3,363.0 86.7,362.0 87.2,358.9" fill="rgb(132,132,132)" stroke="rgb(238,238,238)" stroke-width="0.3" stroke-linejoin="round"/>
<polygon points="113.4,361.7 114.6,359.4 116.8,357.6 119.0,359.6 119.3,362.0 117.5,363.6 115.3,363.4" fill="rgb(132,132,132)" stroke="rgb(238,238,238)" stroke-width="0.3" stroke-linejoin="round"/>
<polygon points="84.2,366.4 80.0,371.4 74.8,371.6 70.8,367.5 73.7,362.5 79.6,361.1" fill="rgb(205,205,205)" stroke="rgb(255,255,255)" stroke-width="0.7" stroke-linejoin="round"/>
<circle cx="76.9" cy="367.0" r="3.6" fill="none" stroke="rgb(255,255,255)" stroke-width="0.6" stroke-opacity="0.7"/>
<polygon points="72.0,361.2 74.4,361.3 75.5,363.8 73.8,365.9 71.2,366.8 69.9,364.4 69.3,361.7" fill="rgb(132,132,132)" stroke="rgb(238,238,238)" stroke-width="0.3" stroke-linejoin="round"/>
<polygon points="86.8,363.6 86.1,365.8 83.4,365.8 83.1,363.4 84.1,361.5 86.5,361.3" fill="rgb(255,255,255)" stroke="rgb(255,255,255)" stroke-width="0.3" stroke-linejoin="round"/>
<polygon points="110.6,371.8 107.9,367.5 110.2,363.6 114.2,363.7 118.0,366.4 114.8,369.8" fill="rgb(132,132,132)" stroke="rgb(238,238,238)" stroke-width="0.5" stroke-linejoin="round"/>
<polygon points="105.4,366.5 107.3,366.0 109.4,366.8 109.7,369.2 107.8,370.8 105.6,370.3 104.9,368.4" fill="rgb(132,132,132)" stroke="rgb(238,238,238)" stroke-width="0.3" stroke-linejoin="round"/>
<polygon points="52.3,367.9 54.3,367.2 55.7,368.7 55.4,370.9 53.3,371.4 52.4,369.7" fill="rgb(205,205,205)" stroke="rgb(255,255,255)" stroke-width="0.3" stroke-linejoin="round"/>
<polygon points="29.2,368.8 32.8,366.5 37.8,367.5 37.9,372.5 35.7,376.7 30.8,376.7 26.9,373.3" fill="rgb(132,132,132)" stroke="rgb(238,238,238)" stroke-width="0.5" stroke-linejoin="round"/>
<polygon points="37.3,378.3 35.7,377.8 34.9,376.1 35.5,374.2 37.2,372.9 39.5,373.3 39.8,375.5 40.8,377.5 39.3,379.1" fill="rgb(205,205,205)" stroke="rgb(255,255,255)" stroke-width="0.3" stroke-linejoin="round"/>
<polygon points="43.8,378.3 41.5,376.7 41.3,373.4 44.2,372.2 47.0,370.8 50.1,372.5 49.5,375.8 49.0,378.7 46.2,380.2" fill="rgb(132,132,132)" stroke="rgb(238,238,238)" stroke-width="0.5" stroke-linejoin="round"/>
<polygon points="27.7,372.7 29.6,373.2 30.1,374.7 30.7,376.1 29.9,377.5 28.3,377.9 26.9,377.1 26.6,375.7 26.6,374.2" fill="rgb(132,132,132)" stroke="rgb(238,238,238)" stroke-width="0.3" stroke-linejoin="round"/>
<polygon points="108.2,375.3 109.3,378.8 107.9,382.3 104.4,382.5 101.6,381.2 100.6,378.3 101.1,374.5 104.9,374.0" fill="rgb(132,132,132)" stroke="rgb(238,238,238)" stroke-width="0.5" stroke-linejoin="round"/>
<polygon points="114.5,381.7 114.6,379.2 115.8,377.6 118.0,375.6 119.9,377.9 120.0,380.2 119.4,382.6 116.6,383.5" fill="rgb(132,132,132)" stroke="rgb(238,238,238)" stroke-width="0.3" stroke-linejoin="round"/>
<polygon points="121.4,381.0 120.3,380.1 120.4,378.5 121.9,378.2 123.2,378.6 124.2,380.1 122.9,381.5" fill="rgb(132,132,132)" stroke="rgb(238,238,238)" stroke-width="0.3" stroke-linejoin="round"/>
<polygon points="73.3,383.0 71.2,381.3 70.1,378.7 72.3,376.7 75.2,376.8 77.0,379.2 75.4,381.4" fill="rgb(132,132,132)" stroke="rgb(238,238,238)" stroke-width="0.3" stroke-linejoin="round"/>
<polygon points="79.5,387.6 78.2,382.3 81.0,379.3 84.6,379.4 87.2,382.6 85.2,387.2" fill="rgb(132,132,132)" stroke="rgb(238,238,238)" stroke-width="0.5" stroke-linejoin="round"/>
<polygon points="36.3,385.9 34.3,389.1 33.3,392.2 29.9,392.3 27.8,390.3 24.9,387.7 27.6,385.0 30.0,382.9 33.4,383.4" fill="rgb(205,205,205)" stroke="rgb(255,255,255)" stroke-width="0.5" stroke-linejoin="round"/>
<polygon points="83.2,395.2 78.1,395.4 76.8,391.0 76.4,387.1 80.2,386.3 84.8,386.2 84.5,390.8" fill="rgb(205,205,205)" stroke="rgb(255,255,255)" stroke-width="0.5" stroke-linejoin="round"/>
<polygon points="100.1,387.3 99.2,390.1 96.8,391.5 94.2,389.7 95.4,387.1 97.6,385.9" fill="rgb(132,132,132)" stroke="rgb(238,238,238)" stroke-width="0.3" stroke-linejoin="round"/>
<polygon points="78.7,400.0 77.9,397.4 79.1,394.8 81.9,393.3 85.1,394.7 86.1,398.1 83.9,400.6 81.1,402.3" fill="rgb(132,132,132)" stroke="rgb(238,238,238)" stroke-width="0.3" stroke-linejoin="round"/>
<polygon points="92.7,405.6 89.8,404.8 87.8,403.0 89.3,400.6 92.2,399.9 94.1,402.6" fill="rgb(132,132,132)" stroke="rgb(238,238,238)" stroke-width="0.3" stroke-linejoin="round"/>
<polygon points="48.9,395.1 48.3,397.5 46.4,398.6 43.3,397.9 44.3,394.9 46.6,393.8" fill="rgb(132,132,132)" stroke="rgb(238,238,238)" stroke-width="0.3" stroke-linejoin="round"/>
<polygon points="50.4,400.5 52.0,400.0 53.0,401.2 53.0,403.1 51.0,403.5 50.0,402.0" fill="rgb(255,255,255)" stroke="rgb(255,255,255)" stroke-width="0.3" stroke-linejoin="round"/>
<polygon points="17.7,402.5 15.7,400.8 15.2,398.3 16.7,395.6 19.6,396.7 20.8,399.0 20.4,401.6" fill="rgb(86,86,86)" stroke="rgb(169,169,169)" stroke-width="0.3" stroke-linejoin="round"/>
<polygon points="26.9,403.6 27.5,401.6 28.8,400.0 31.1,400.1 32.8,401.9 32.7,404.5 30.4,405.7 28.0,405.7" fill="rgb(86,86,86)" stroke="rgb(169,169,169)" stroke-width="0.3" stroke-linejoin="round"/>
<polygon points="109.1,405.2 106.8,404.0 106.2,400.9 109.4,399.2 112.3,401.2 111.1,404.0" fill="rgb(255,255,255)" stroke="rgb(255,255,255)" stroke-width="0.3" stroke-linejoin="round"/>
</g><g filter="url(#b1)">
<circle cx="98.6" cy="340.7" r="1.2" fill="#fff" fill-opacity="0.72"/>
<circle cx="98.3" cy="339.5" r="1.5" fill="#fff" fill-opacity="0.72"/>
<circle cx="92.5" cy="352.6" r="0.9" fill="#fff" fill-opacity="0.72"/>
<circle cx="96.5" cy="357.8" r="1.2" fill="#fff" fill-opacity="1.00"/>
<circle cx="76.6" cy="368.3" r="1.9" fill="#fff" fill-opacity="0.72"/>
<circle cx="76.2" cy="368.3" r="1.7" fill="#fff" fill-opacity="0.72"/>
<circle cx="84.3" cy="364.2" r="0.7" fill="#fff" fill-opacity="0.95"/>
<circle cx="38.6" cy="376.4" r="0.7" fill="#fff" fill-opacity="0.72"/>
<circle cx="32.6" cy="388.5" r="1.1" fill="#fff" fill-opacity="0.72"/>
<circle cx="30.6" cy="386.4" r="1.5" fill="#fff" fill-opacity="0.72"/>
<circle cx="80.5" cy="391.0" r="1.4" fill="#fff" fill-opacity="0.72"/>
<circle cx="80.3" cy="388.4" r="1.1" fill="#fff" fill-opacity="0.72"/>
<circle cx="51.5" cy="401.6" r="1.2" fill="#fff" fill-opacity="1.00"/>
<circle cx="108.7" cy="403.8" r="0.7" fill="#fff" fill-opacity="0.95"/>
</g></g>
<line x1="112.7" y1="403" x2="119.6" y2="403" stroke="#ddd" stroke-width="0.6"/>
<text x="116.2" y="400.6" font-size="2.6" font-weight="bold" text-anchor="middle" fill="#ddd">5 µm</text>
<g clip-path="url(#c1)"><g filter="url(#tex)">
<polygon points="155.4,334.9 150.9,335.6 147.0,333.6 145.9,329.3 148.1,325.6 152.4,323.5 157.1,325.7 156.7,330.6" fill="rgb(69,69,69)" stroke="rgb(143,143,143)" stroke-width="0.7" stroke-linejoin="round"/>
<circle cx="151.6" cy="330.0" r="3.3" fill="none" stroke="rgb(143,143,143)" stroke-width="0.6" stroke-opacity="0.7"/>
<polygon points="138.2,339.3 139.7,335.5 141.5,332.4 144.9,333.3 147.2,335.4 148.6,339.0 145.6,341.9 142.0,340.8" fill="rgb(69,69,69)" stroke="rgb(143,143,143)" stroke-width="0.5" stroke-linejoin="round"/>
<polygon points="157.0,337.9 160.7,344.8 157.2,351.5 150.5,350.0 147.7,345.2 149.4,338.8" fill="rgb(107,107,107)" stroke="rgb(200,200,200)" stroke-width="0.7" stroke-linejoin="round"/>
<circle cx="153.2" cy="345.0" r="3.9" fill="none" stroke="rgb(200,200,200)" stroke-width="0.6" stroke-opacity="0.7"/>
<polygon points="147.3,350.6 150.9,348.5 156.0,348.3 157.1,353.4 155.2,358.3 150.3,357.3 145.4,355.5" fill="rgb(69,69,69)" stroke="rgb(143,143,143)" stroke-width="0.7" stroke-linejoin="round"/>
<circle cx="151.6" cy="353.0" r="3.3" fill="none" stroke="rgb(143,143,143)" stroke-width="0.6" stroke-opacity="0.7"/>
<polygon points="167.0,356.3 159.2,352.7 161.5,344.7 163.9,338.6 171.1,335.6 175.5,341.9 179.2,348.2 173.6,353.2" fill="rgb(107,107,107)" stroke="rgb(200,200,200)" stroke-width="0.7" stroke-linejoin="round"/>
<circle cx="169.0" cy="346.2" r="5.5" fill="none" stroke="rgb(200,200,200)" stroke-width="0.6" stroke-opacity="0.7"/>
<polygon points="179.8,357.8 177.3,360.8 173.4,362.1 170.9,358.9 169.0,355.3 171.6,351.6 175.6,352.9 178.5,354.3" fill="rgb(166,166,166)" stroke="rgb(255,255,255)" stroke-width="0.5" stroke-linejoin="round"/>
<polygon points="184.2,337.7 180.9,335.8 182.4,332.1 185.8,331.9 189.3,333.5 187.2,336.9" fill="rgb(107,107,107)" stroke="rgb(200,200,200)" stroke-width="0.3" stroke-linejoin="round"/>
<polygon points="201.5,337.2 200.3,341.3 196.5,342.8 192.6,341.3 190.1,336.6 194.8,334.2 198.7,334.1" fill="rgb(107,107,107)" stroke="rgb(200,200,200)" stroke-width="0.7" stroke-linejoin="round"/>
<circle cx="196.6" cy="338.2" r="3.3" fill="none" stroke="rgb(200,200,200)" stroke-width="0.6" stroke-opacity="0.7"/>
<polygon points="213.4,342.5 207.2,338.1 206.8,331.3 211.5,327.3 217.7,327.0 221.0,332.4 218.5,337.6" fill="rgb(107,107,107)" stroke="rgb(200,200,200)" stroke-width="0.7" stroke-linejoin="round"/>
<circle cx="214.0" cy="333.5" r="4.4" fill="none" stroke="rgb(200,200,200)" stroke-width="0.6" stroke-opacity="0.7"/>
<polygon points="230.3,331.1 228.4,334.4 224.3,334.2 222.4,330.7 223.7,327.4 226.9,325.4 229.8,327.7" fill="rgb(69,69,69)" stroke="rgb(143,143,143)" stroke-width="0.5" stroke-linejoin="round"/>
<polygon points="236.0,332.8 238.5,335.9 236.8,340.1 232.5,339.7 228.4,338.1 228.3,333.1 232.6,331.4" fill="rgb(69,69,69)" stroke="rgb(143,143,143)" stroke-width="0.5" stroke-linejoin="round"/>
<polygon points="228.9,343.4 233.3,342.4 238.2,339.9 239.4,345.2 240.8,349.0 238.4,352.6 234.0,355.2 229.5,352.7 226.9,348.1" fill="rgb(69,69,69)" stroke="rgb(143,143,143)" stroke-width="0.7" stroke-linejoin="round"/>
<circle cx="234.7" cy="347.4" r="3.9" fill="none" stroke="rgb(143,143,143)" stroke-width="0.6" stroke-opacity="0.7"/>
<polygon points="245.0,346.8 246.3,350.6 247.2,353.9 245.0,357.5 240.5,357.4 238.9,353.6 238.6,350.2 240.9,347.2" fill="rgb(69,69,69)" stroke="rgb(143,143,143)" stroke-width="0.5" stroke-linejoin="round"/>
<polygon points="248.1,367.3 245.4,369.1 242.4,367.9 239.8,365.2 241.8,362.1 244.5,360.1 247.9,361.2 251.0,364.1" fill="rgb(69,69,69)" stroke="rgb(143,143,143)" stroke-width="0.5" stroke-linejoin="round"/>
<polygon points="188.4,349.0 192.9,346.9 197.8,348.4 197.9,353.3 199.1,357.4 195.3,359.4 191.1,360.8 188.5,357.2 186.9,353.4" fill="rgb(107,107,107)" stroke="rgb(200,200,200)" stroke-width="0.7" stroke-linejoin="round"/>
<circle cx="193.2" cy="354.3" r="3.6" fill="none" stroke="rgb(200,200,200)" stroke-width="0.6" stroke-opacity="0.7"/>
<polygon points="204.0,350.3 208.1,348.5 211.5,351.9 211.3,357.3 206.0,357.4 202.8,354.4" fill="rgb(69,69,69)" stroke="rgb(143,143,143)" stroke-width="0.5" stroke-linejoin="round"/>
<polygon points="220.6,364.8 214.8,368.2 209.9,363.8 209.8,358.2 213.1,353.8 219.0,354.1 221.0,359.2" fill="rgb(166,166,166)" stroke="rgb(255,255,255)" stroke-width="0.7" stroke-linejoin="round"/>
<circle cx="215.5" cy="360.0" r="3.9" fill="none" stroke="rgb(255,255,255)" stroke-width="0.6" stroke-opacity="0.7"/>
<polygon points="169.7,359.6 174.7,361.6 175.7,367.5 170.3,369.6 165.5,367.7 164.7,362.1" fill="rgb(166,166,166)" stroke="rgb(255,255,255)" stroke-width="0.7" stroke-linejoin="round"/>
<circle cx="170.0" cy="364.7" r="3.3" fill="none" stroke="rgb(255,255,255)" stroke-width="0.6" stroke-opacity="0.7"/>
<polygon points="160.7,373.9 156.6,372.7 153.8,369.3 156.1,365.7 158.7,362.9 163.6,362.6 164.6,367.3 164.6,371.6" fill="rgb(107,107,107)" stroke="rgb(200,200,200)" stroke-width="0.7" stroke-linejoin="round"/>
<circle cx="159.7" cy="368.2" r="3.3" fill="none" stroke="rgb(200,200,200)" stroke-width="0.6" stroke-opacity="0.7"/>
<polygon points="149.9,375.0 148.1,372.7 147.5,370.7 148.2,368.7 149.6,366.7 152.3,366.9 153.8,369.1 154.5,371.7 152.6,373.8" fill="rgb(166,166,166)" stroke="rgb(255,255,255)" stroke-width="0.3" stroke-linejoin="round"/>
<polygon points="145.2,367.6 144.0,372.3 139.3,372.5 135.5,370.6 136.3,366.5 138.8,364.1 142.9,363.8" fill="rgb(69,69,69)" stroke="rgb(143,143,143)" stroke-width="0.5" stroke-linejoin="round"/>
<polygon points="141.1,374.1 144.1,376.7 143.9,380.8 140.8,383.6 137.0,382.8 133.8,380.3 134.2,376.2 137.1,373.0" fill="rgb(69,69,69)" stroke="rgb(143,143,143)" stroke-width="0.5" stroke-linejoin="round"/>
<polygon points="196.4,370.4 195.3,366.5 198.3,363.1 202.3,364.6 205.0,367.7 204.6,372.9 199.5,372.5" fill="rgb(107,107,107)" stroke="rgb(200,200,200)" stroke-width="0.5" stroke-linejoin="round"/>
<polygon points="215.1,369.2 216.1,372.7 215.0,376.1 211.7,377.5 207.9,376.6 207.3,372.9 208.3,369.6 211.5,367.9" fill="rgb(166,166,166)" stroke="rgb(255,255,255)" stroke-width="0.5" stroke-linejoin="round"/>
<polygon points="209.6,382.4 211.6,380.7 214.0,380.8 215.2,382.7 215.4,385.3 212.8,385.8 210.0,385.4" fill="rgb(246,246,246)" stroke="rgb(255,255,255)" stroke-width="0.3" stroke-linejoin="round"/>
<polygon points="180.3,376.8 178.5,384.4 177.6,389.8 173.1,395.6 166.8,391.7 162.0,387.5 163.1,381.2 166.2,375.4 172.9,375.2" fill="rgb(107,107,107)" stroke="rgb(200,200,200)" stroke-width="0.7" stroke-linejoin="round"/>
<circle cx="171.2" cy="384.3" r="5.5" fill="none" stroke="rgb(200,200,200)" stroke-width="0.6" stroke-opacity="0.7"/>
<polygon points="185.3,390.1 182.8,385.5 185.4,380.9 189.2,376.2 195.0,378.3 198.1,382.9 196.6,387.6 194.4,391.7 189.5,392.7" fill="rgb(107,107,107)" stroke="rgb(200,200,200)" stroke-width="0.7" stroke-linejoin="round"/>
<circle cx="190.8" cy="385.5" r="4.4" fill="none" stroke="rgb(200,200,200)" stroke-width="0.6" stroke-opacity="0.7"/>
<polygon points="146.4,386.3 146.9,392.0 144.0,396.0 139.0,396.9 134.4,393.4 136.8,388.3 140.7,385.4" fill="rgb(69,69,69)" stroke="rgb(143,143,143)" stroke-width="0.7" stroke-linejoin="round"/>
<circle cx="141.2" cy="391.2" r="3.3" fill="none" stroke="rgb(143,143,143)" stroke-width="0.6" stroke-opacity="0.7"/>
<polygon points="164.9,395.8 163.4,396.2 162.6,394.7 163.6,393.4 164.9,393.7 166.0,394.7" fill="rgb(246,246,246)" stroke="rgb(255,255,255)" stroke-width="0.3" stroke-linejoin="round"/>
<polygon points="185.5,395.0 187.2,397.0 186.5,399.4 184.8,400.4 182.9,400.5 181.3,399.2 181.4,397.0 183.2,395.9" fill="rgb(246,246,246)" stroke="rgb(255,255,255)" stroke-width="0.3" stroke-linejoin="round"/>
<polygon points="240.0,387.7 241.7,386.0 244.1,386.1 244.8,388.3 244.8,389.9 243.9,392.0 241.5,391.7 239.5,390.2" fill="rgb(246,246,246)" stroke="rgb(255,255,255)" stroke-width="0.3" stroke-linejoin="round"/>
<polygon points="221.0,399.4 217.1,398.8 216.4,395.2 218.3,391.9 222.2,392.8 224.4,396.7" fill="rgb(166,166,166)" stroke="rgb(255,255,255)" stroke-width="0.3" stroke-linejoin="round"/>
<polygon points="219.5,391.9 222.4,389.3 225.6,388.8 229.8,390.5 228.3,394.9 224.8,397.1 221.0,395.7" fill="rgb(69,69,69)" stroke="rgb(143,143,143)" stroke-width="0.5" stroke-linejoin="round"/>
<polygon points="194.0,401.9 196.5,401.7 197.5,403.8 196.7,405.7 194.6,405.9 193.7,404.2" fill="rgb(246,246,246)" stroke="rgb(255,255,255)" stroke-width="0.3" stroke-linejoin="round"/>
<polygon points="203.7,407.4 201.6,402.3 205.1,398.7 211.0,397.2 213.0,403.4 209.9,409.2" fill="rgb(107,107,107)" stroke="rgb(200,200,200)" stroke-width="0.7" stroke-linejoin="round"/>
<circle cx="207.0" cy="402.8" r="3.3" fill="none" stroke="rgb(200,200,200)" stroke-width="0.6" stroke-opacity="0.7"/>
<polygon points="236.3,405.4 234.5,407.6 231.7,407.9 228.6,407.2 228.4,404.0 229.6,401.7 231.4,398.4 234.7,399.9 236.7,402.4" fill="rgb(69,69,69)" stroke="rgb(143,143,143)" stroke-width="0.5" stroke-linejoin="round"/>
<polygon points="177.2,405.0 177.6,408.4 174.3,409.2 171.7,409.1 169.4,407.1 170.7,404.3 172.6,402.6 175.8,402.1" fill="rgb(69,69,69)" stroke="rgb(143,143,143)" stroke-width="0.3" stroke-linejoin="round"/>
<polygon points="145.5,403.6 143.0,405.3 141.1,406.2 138.8,405.8 138.2,403.6 137.0,400.8 139.6,399.6 142.1,399.6 144.0,401.1" fill="rgb(69,69,69)" stroke="rgb(143,143,143)" stroke-width="0.3" stroke-linejoin="round"/>
</g><g filter="url(#b1)">
<circle cx="173.7" cy="357.9" r="1.4" fill="#fff" fill-opacity="0.72"/>
<circle cx="175.8" cy="358.1" r="1.2" fill="#fff" fill-opacity="0.72"/>
<circle cx="213.4" cy="357.9" r="1.5" fill="#fff" fill-opacity="0.72"/>
<circle cx="215.0" cy="358.8" r="1.5" fill="#fff" fill-opacity="0.72"/>
<circle cx="169.4" cy="366.6" r="1.3" fill="#fff" fill-opacity="0.72"/>
<circle cx="169.9" cy="366.2" r="1.1" fill="#fff" fill-opacity="0.72"/>
<circle cx="151.6" cy="370.0" r="1.1" fill="#fff" fill-opacity="0.72"/>
<circle cx="211.1" cy="372.1" r="1.4" fill="#fff" fill-opacity="0.72"/>
<circle cx="213.0" cy="372.8" r="1.2" fill="#fff" fill-opacity="0.72"/>
<circle cx="213.1" cy="382.6" r="0.7" fill="#fff" fill-opacity="0.95"/>
<circle cx="164.3" cy="394.7" r="0.9" fill="#fff" fill-opacity="1.00"/>
<circle cx="183.2" cy="398.5" r="0.8" fill="#fff" fill-opacity="0.95"/>
<circle cx="242.6" cy="388.0" r="0.7" fill="#fff" fill-opacity="0.95"/>
<circle cx="219.9" cy="395.5" r="0.8" fill="#fff" fill-opacity="0.72"/>
<circle cx="195.8" cy="404.7" r="0.7" fill="#fff" fill-opacity="0.95"/>
</g></g>
<g clip-path="url(#c2)"><g filter="url(#tex)">
<polygon points="27.1,428.9 25.4,427.4 26.1,425.2 27.0,423.2 29.3,423.3 30.8,424.5 31.5,426.2 30.7,427.9 29.1,429.0" fill="rgb(189,189,189)" stroke="rgb(255,255,255)" stroke-width="0.3" stroke-linejoin="round"/>
<polygon points="58.7,418.6 63.0,418.8 66.7,422.6 63.1,426.5 59.1,428.5 54.1,426.2 53.9,420.5" fill="rgb(189,189,189)" stroke="rgb(255,255,255)" stroke-width="0.7" stroke-linejoin="round"/>
<circle cx="60.0" cy="423.0" r="3.3" fill="none" stroke="rgb(255,255,255)" stroke-width="0.6" stroke-opacity="0.7"/>
<polygon points="90.8,424.9 91.2,422.8 93.3,422.3 95.6,421.8 96.5,424.1 97.4,426.5 95.4,428.1 93.1,428.1 91.4,426.8" fill="rgb(122,122,122)" stroke="rgb(223,223,223)" stroke-width="0.3" stroke-linejoin="round"/>
<polygon points="41.5,434.5 39.8,435.1 38.7,433.8 37.9,432.2 39.3,431.0 41.2,431.2 41.5,432.8" fill="rgb(189,189,189)" stroke="rgb(255,255,255)" stroke-width="0.3" stroke-linejoin="round"/>
<polygon points="58.2,433.3 57.6,432.3 57.7,431.3 58.6,430.3 59.7,431.1 60.2,432.2 59.3,433.0" fill="rgb(255,255,255)" stroke="rgb(255,255,255)" stroke-width="0.3" stroke-linejoin="round"/>
<polygon points="71.6,428.6 72.5,430.3 73.2,432.1 71.5,432.9 70.0,433.2 68.2,432.4 68.6,430.4 69.7,429.2" fill="rgb(189,189,189)" stroke="rgb(255,255,255)" stroke-width="0.3" stroke-linejoin="round"/>
<polygon points="15.2,433.1 15.3,434.6 14.1,435.9 12.3,435.3 11.4,433.6 12.8,432.5 14.3,431.7" fill="rgb(122,122,122)" stroke="rgb(223,223,223)" stroke-width="0.3" stroke-linejoin="round"/>
<polygon points="124.0,434.8 122.9,433.9 122.0,432.9 122.6,431.7 123.5,431.0 124.8,430.3 125.8,431.4 126.1,432.8 125.0,433.6" fill="rgb(122,122,122)" stroke="rgb(223,223,223)" stroke-width="0.3" stroke-linejoin="round"/>
<polygon points="18.3,443.9 21.9,441.9 24.2,445.1 24.5,448.9 20.6,450.1 17.4,447.7" fill="rgb(189,189,189)" stroke="rgb(255,255,255)" stroke-width="0.3" stroke-linejoin="round"/>
<polygon points="29.5,438.2 31.3,438.2 32.9,439.5 32.5,441.5 31.2,442.5 29.5,444.0 27.6,442.9 27.4,440.8 28.2,439.3" fill="rgb(122,122,122)" stroke="rgb(223,223,223)" stroke-width="0.3" stroke-linejoin="round"/>
<polygon points="37.8,449.3 35.6,452.3 32.5,453.3 29.4,450.7 31.4,447.3 35.3,445.7" fill="rgb(255,255,255)" stroke="rgb(255,255,255)" stroke-width="0.3" stroke-linejoin="round"/>
<polygon points="45.3,454.9 43.1,454.4 43.6,452.1 45.0,450.2 47.3,450.9 48.4,452.9 47.5,455.1" fill="rgb(122,122,122)" stroke="rgb(223,223,223)" stroke-width="0.3" stroke-linejoin="round"/>
<polygon points="38.4,458.6 39.5,457.3 40.7,456.1 42.5,456.3 43.6,457.9 43.2,459.6 41.9,460.5 40.3,461.6 38.8,460.4" fill="rgb(122,122,122)" stroke="rgb(223,223,223)" stroke-width="0.3" stroke-linejoin="round"/>
<polygon points="24.8,455.8 22.7,456.8 21.5,454.8 21.3,452.9 22.1,450.5 24.4,451.4 26.1,452.5 25.9,454.4" fill="rgb(79,79,79)" stroke="rgb(158,158,158)" stroke-width="0.3" stroke-linejoin="round"/>
<polygon points="71.8,448.1 68.4,448.8 65.5,447.3 63.9,444.1 66.6,442.0 69.1,439.8 71.4,442.2 73.3,444.9" fill="rgb(255,255,255)" stroke="rgb(255,255,255)" stroke-width="0.5" stroke-linejoin="round"/>
<polygon points="86.8,450.9 85.3,448.0 85.9,444.9 88.9,444.7 91.7,445.5 92.1,448.5 89.9,450.6" fill="rgb(189,189,189)" stroke="rgb(255,255,255)" stroke-width="0.3" stroke-linejoin="round"/>
<polygon points="114.6,442.2 113.1,443.7 111.4,445.4 109.7,443.7 109.4,441.8 110.0,440.0 112.0,438.5 113.5,440.4" fill="rgb(122,122,122)" stroke="rgb(223,223,223)" stroke-width="0.3" stroke-linejoin="round"/>
<polygon points="113.6,443.8 114.3,441.3 116.3,439.8 118.5,439.9 122.1,440.2 122.3,443.7 119.8,445.6 117.6,447.8 114.2,447.2" fill="rgb(189,189,189)" stroke="rgb(255,255,255)" stroke-width="0.5" stroke-linejoin="round"/>
<polygon points="99.6,470.8 100.1,469.9 100.9,469.4 101.7,469.7 102.4,470.2 102.7,471.1 102.1,472.0 101.0,472.3 100.1,471.8" fill="rgb(255,255,255)" stroke="rgb(255,255,255)" stroke-width="0.3" stroke-linejoin="round"/>
<polygon points="19.6,475.4 17.1,476.8 14.9,474.3 16.5,471.7 19.0,471.4 21.2,473.2" fill="rgb(122,122,122)" stroke="rgb(223,223,223)" stroke-width="0.3" stroke-linejoin="round"/>
<polygon points="40.5,480.7 36.3,481.8 32.3,480.8 31.8,476.6 33.8,472.9 38.0,473.4 40.2,476.4" fill="rgb(189,189,189)" stroke="rgb(255,255,255)" stroke-width="0.5" stroke-linejoin="round"/>
<polygon points="47.9,481.9 47.8,484.5 46.8,486.6 44.7,487.0 42.7,486.7 41.1,485.1 42.1,483.0 43.0,480.8 45.3,481.5" fill="rgb(189,189,189)" stroke="rgb(255,255,255)" stroke-width="0.3" stroke-linejoin="round"/>
<polygon points="86.5,484.8 87.4,487.8 85.8,490.4 83.0,489.6 81.0,487.1 82.9,483.9" fill="rgb(189,189,189)" stroke="rgb(255,255,255)" stroke-width="0.3" stroke-linejoin="round"/>
<polygon points="86.4,492.8 87.8,491.0 90.0,491.1 91.3,493.2 89.9,495.5 87.0,495.4" fill="rgb(189,189,189)" stroke="rgb(255,255,255)" stroke-width="0.3" stroke-linejoin="round"/>
<polygon points="97.4,488.3 99.0,486.8 101.2,486.9 102.6,488.5 102.7,490.7 101.1,492.4 99.0,491.7 97.4,490.5" fill="rgb(189,189,189)" stroke="rgb(255,255,255)" stroke-width="0.3" stroke-linejoin="round"/>
<polygon points="57.7,495.6 59.6,494.0 62.6,494.3 63.3,497.2 62.8,499.8 60.3,500.5 58.0,499.9 56.0,497.9" fill="rgb(122,122,122)" stroke="rgb(223,223,223)" stroke-width="0.3" stroke-linejoin="round"/>
<polygon points="23.1,487.9 23.8,488.8 23.0,489.8 22.0,489.5 21.3,488.6 22.0,487.6" fill="rgb(122,122,122)" stroke="rgb(223,223,223)" stroke-width="0.3" stroke-linejoin="round"/>
</g><g filter="url(#b1)">
<circle cx="28.2" cy="425.1" r="0.8" fill="#fff" fill-opacity="0.72"/>
<circle cx="58.4" cy="422.3" r="1.6" fill="#fff" fill-opacity="0.72"/>
<circle cx="59.4" cy="425.2" r="1.2" fill="#fff" fill-opacity="0.72"/>
<circle cx="58.7" cy="432.0" r="0.9" fill="#fff" fill-opacity="1.00"/>
<circle cx="71.4" cy="431.1" r="0.7" fill="#fff" fill-opacity="0.72"/>
<circle cx="22.6" cy="446.4" r="0.8" fill="#fff" fill-opacity="0.72"/>
<circle cx="33.4" cy="450.8" r="1.2" fill="#fff" fill-opacity="0.95"/>
<circle cx="69.4" cy="443.2" r="1.2" fill="#fff" fill-opacity="0.95"/>
<circle cx="89.4" cy="448.4" r="0.7" fill="#fff" fill-opacity="0.72"/>
<circle cx="117.7" cy="441.6" r="1.1" fill="#fff" fill-opacity="0.72"/>
<circle cx="101.2" cy="470.7" r="0.9" fill="#fff" fill-opacity="1.00"/>
<circle cx="34.7" cy="479.2" r="1.4" fill="#fff" fill-opacity="0.72"/>
<circle cx="35.2" cy="475.7" r="1.0" fill="#fff" fill-opacity="0.72"/>
<circle cx="44.3" cy="485.5" r="0.7" fill="#fff" fill-opacity="0.72"/>
<circle cx="84.5" cy="486.5" r="0.7" fill="#fff" fill-opacity="0.72"/>
<circle cx="88.0" cy="492.6" r="0.7" fill="#fff" fill-opacity="0.72"/>
<circle cx="100.3" cy="488.5" r="0.8" fill="#fff" fill-opacity="0.72"/>
</g></g>
<g clip-path="url(#c3)"><g filter="url(#tex)">
<polygon points="162.6,420.1 161.6,418.9 162.1,417.5 163.2,416.6 164.9,415.7 165.7,417.5 166.6,418.9 165.2,420.1 163.9,421.3" fill="rgb(255,255,255)" stroke="rgb(255,255,255)" stroke-width="0.3" stroke-linejoin="round"/>
<polygon points="187.8,426.5 185.5,426.1 183.8,424.4 183.8,421.8 185.4,419.6 188.0,419.8 190.4,420.7 191.0,423.3 190.2,425.8" fill="rgb(255,255,255)" stroke="rgb(255,255,255)" stroke-width="0.3" stroke-linejoin="round"/>
<polygon points="227.3,422.1 232.7,421.6 236.0,425.1 235.1,430.0 230.1,431.0 225.7,427.8" fill="rgb(117,117,117)" stroke="rgb(215,215,215)" stroke-width="0.5" stroke-linejoin="round"/>
<polygon points="234.9,429.7 237.3,428.7 239.8,428.3 240.1,430.9 239.6,432.9 237.4,433.7 236.0,432.1" fill="rgb(255,255,255)" stroke="rgb(255,255,255)" stroke-width="0.3" stroke-linejoin="round"/>
<polygon points="156.1,434.3 156.4,431.9 158.0,430.2 160.2,431.0 161.6,432.9 160.5,435.2 158.3,435.0" fill="rgb(255,255,255)" stroke="rgb(255,255,255)" stroke-width="0.3" stroke-linejoin="round"/>
<polygon points="178.2,435.2 180.9,438.5 179.3,443.2 173.7,443.9 171.1,439.0 174.4,435.6" fill="rgb(181,181,181)" stroke="rgb(255,255,255)" stroke-width="0.5" stroke-linejoin="round"/>
<polygon points="213.2,447.6 211.1,446.9 210.0,444.4 212.1,442.5 214.4,443.1 215.4,444.8 215.1,446.7" fill="rgb(117,117,117)" stroke="rgb(215,215,215)" stroke-width="0.3" stroke-linejoin="round"/>
<polygon points="226.9,452.9 224.4,452.5 222.1,451.2 222.6,448.5 224.4,447.2 227.0,446.0 228.6,448.3 228.9,451.1" fill="rgb(255,255,255)" stroke="rgb(255,255,255)" stroke-width="0.3" stroke-linejoin="round"/>
<polygon points="242.5,459.4 241.6,461.8 239.3,462.1 236.5,462.4 236.6,459.6 236.6,457.1 239.1,455.9 241.6,456.9" fill="rgb(117,117,117)" stroke="rgb(215,215,215)" stroke-width="0.3" stroke-linejoin="round"/>
<polygon points="138.8,437.1 138.3,438.4 137.3,439.0 136.0,439.7 135.1,438.5 134.9,437.2 135.4,436.1 136.6,435.8 137.7,436.3" fill="rgb(181,181,181)" stroke="rgb(255,255,255)" stroke-width="0.3" stroke-linejoin="round"/>
<polygon points="169.9,465.6 161.6,462.9 161.0,455.1 166.0,449.7 174.5,450.5 174.5,458.9" fill="rgb(90,90,90)" stroke="rgb(255,255,255)" stroke-width="1.0" stroke-linejoin="round"/>
<circle cx="167.8" cy="457.0" r="4.4" fill="none" stroke="rgb(255,255,255)" stroke-width="0.6" stroke-opacity="0.7"/>
<polygon points="189.7,453.2 191.1,453.5 191.4,454.9 191.2,456.8 189.4,456.5 188.0,455.5 188.2,453.8" fill="rgb(181,181,181)" stroke="rgb(255,255,255)" stroke-width="0.3" stroke-linejoin="round"/>
<polygon points="202.7,460.6 202.4,463.8 199.1,465.1 195.8,463.0 195.8,459.1 198.7,456.9 202.2,457.5" fill="rgb(255,255,255)" stroke="rgb(255,255,255)" stroke-width="0.3" stroke-linejoin="round"/>
<polygon points="214.3,453.7 221.1,452.2 225.6,458.2 223.2,464.9 217.1,468.2 211.6,464.3 209.5,458.1" fill="rgb(90,90,90)" stroke="rgb(255,255,255)" stroke-width="1.0" stroke-linejoin="round"/>
<circle cx="217.2" cy="460.0" r="4.4" fill="none" stroke="rgb(255,255,255)" stroke-width="0.6" stroke-opacity="0.7"/>
<polygon points="140.6,462.6 141.6,465.1 139.5,466.6 137.7,467.1 135.3,466.8 134.9,464.3 136.3,462.5 138.3,462.0" fill="rgb(181,181,181)" stroke="rgb(255,255,255)" stroke-width="0.3" stroke-linejoin="round"/>
<polygon points="146.6,470.6 145.5,470.0 145.7,468.6 146.8,467.7 147.9,468.4 148.7,469.6 147.8,470.7" fill="rgb(255,255,255)" stroke="rgb(255,255,255)" stroke-width="0.3" stroke-linejoin="round"/>
<polygon points="175.1,473.3 180.4,470.2 186.1,473.1 187.5,480.6 180.2,483.8 173.8,480.1" fill="rgb(58,58,58)" stroke="rgb(194,194,194)" stroke-width="1.0" stroke-linejoin="round"/>
<circle cx="180.3" cy="476.4" r="3.9" fill="none" stroke="rgb(194,194,194)" stroke-width="0.6" stroke-opacity="0.7"/>
<polygon points="219.0,473.4 220.4,476.5 219.4,480.5 215.1,479.7 212.9,476.3 215.3,472.8" fill="rgb(255,255,255)" stroke="rgb(255,255,255)" stroke-width="0.3" stroke-linejoin="round"/>
<polygon points="233.4,490.6 230.1,491.0 227.9,488.5 228.4,485.5 229.0,482.5 232.2,481.0 235.0,482.9 235.4,485.8 236.2,488.9" fill="rgb(181,181,181)" stroke="rgb(255,255,255)" stroke-width="0.5" stroke-linejoin="round"/>
<polygon points="149.1,488.3 146.9,485.4 146.0,482.3 148.7,480.6 151.8,480.4 154.8,483.2 152.0,486.1" fill="rgb(181,181,181)" stroke="rgb(255,255,255)" stroke-width="0.5" stroke-linejoin="round"/>
<polygon points="140.6,482.6 138.7,483.7 136.3,484.2 135.4,481.8 136.0,479.5 138.4,478.6 140.2,480.3" fill="rgb(117,117,117)" stroke="rgb(215,215,215)" stroke-width="0.3" stroke-linejoin="round"/>
<polygon points="194.0,485.2 196.8,488.7 196.7,494.1 191.8,496.1 186.9,496.1 182.3,493.1 181.2,487.2 186.2,484.2 190.3,483.6" fill="rgb(90,90,90)" stroke="rgb(255,255,255)" stroke-width="1.0" stroke-linejoin="round"/>
<circle cx="189.9" cy="489.4" r="4.4" fill="none" stroke="rgb(255,255,255)" stroke-width="0.6" stroke-opacity="0.7"/>
<polygon points="141.2,492.2 146.1,492.2 150.5,494.9 148.8,499.8 145.4,503.5 140.0,501.9 138.0,496.6" fill="rgb(38,38,38)" stroke="rgb(136,136,136)" stroke-width="1.0" stroke-linejoin="round"/>
<circle cx="144.5" cy="497.2" r="3.3" fill="none" stroke="rgb(136,136,136)" stroke-width="0.6" stroke-opacity="0.7"/>
</g><g filter="url(#b1)">
<circle cx="164.2" cy="417.9" r="0.7" fill="#fff" fill-opacity="0.95"/>
<circle cx="186.3" cy="423.2" r="0.8" fill="#fff" fill-opacity="0.95"/>
<circle cx="238.1" cy="430.3" r="0.7" fill="#fff" fill-opacity="0.95"/>
<circle cx="159.2" cy="432.7" r="0.7" fill="#fff" fill-opacity="0.95"/>
<circle cx="176.8" cy="437.1" r="1.2" fill="#fff" fill-opacity="0.72"/>
<circle cx="177.6" cy="437.2" r="1.5" fill="#fff" fill-opacity="0.72"/>
<circle cx="226.4" cy="451.0" r="0.7" fill="#fff" fill-opacity="0.95"/>
<circle cx="166.7" cy="456.9" r="1.7" fill="#fff" fill-opacity="0.72"/>
<circle cx="166.2" cy="459.4" r="2.0" fill="#fff" fill-opacity="0.72"/>
<circle cx="199.4" cy="460.1" r="1.1" fill="#fff" fill-opacity="0.95"/>
<circle cx="216.6" cy="457.2" r="1.8" fill="#fff" fill-opacity="0.72"/>
<circle cx="216.1" cy="463.1" r="1.9" fill="#fff" fill-opacity="0.72"/>
<circle cx="138.7" cy="465.7" r="0.8" fill="#fff" fill-opacity="0.72"/>
<circle cx="147.0" cy="469.4" r="0.9" fill="#fff" fill-opacity="1.00"/>
<circle cx="216.4" cy="474.9" r="0.7" fill="#fff" fill-opacity="0.95"/>
<circle cx="233.4" cy="485.7" r="0.9" fill="#fff" fill-opacity="0.72"/>
<circle cx="149.7" cy="484.1" r="1.2" fill="#fff" fill-opacity="0.72"/>
<circle cx="188.0" cy="489.6" r="2.2" fill="#fff" fill-opacity="0.72"/>
<circle cx="189.0" cy="488.5" r="1.8" fill="#fff" fill-opacity="0.72"/>
</g></g>
<text x="307.4" y="294.6" font-size="11" font-weight="bold" text-anchor="start" fill="#000" stroke="#000" stroke-width="0.3">F</text>
<line x1="351.9" y1="288.9" x2="351.9" y2="387" stroke="#8a8a8a" stroke-width="0.8"/>
<line x1="349.9" y1="387.0" x2="351.9" y2="387.0" stroke="#8a8a8a" stroke-width="0.7"/>
<text x="347.2" y="389.1" font-size="5.8" font-weight="bold" text-anchor="end" fill="#000">0</text>
<line x1="349.9" y1="354.3" x2="351.9" y2="354.3" stroke="#8a8a8a" stroke-width="0.7"/>
<text x="347.2" y="356.4" font-size="5.8" font-weight="bold" text-anchor="end" fill="#000">100</text>
<line x1="349.9" y1="321.6" x2="351.9" y2="321.6" stroke="#8a8a8a" stroke-width="0.7"/>
<text x="347.2" y="323.7" font-size="5.8" font-weight="bold" text-anchor="end" fill="#000">200</text>
<line x1="349.9" y1="288.9" x2="351.9" y2="288.9" stroke="#8a8a8a" stroke-width="0.7"/>
<text x="347.2" y="291.0" font-size="5.8" font-weight="bold" text-anchor="end" fill="#000">300</text>
<line x1="349.9" y1="387" x2="453.6" y2="387" stroke="#8a8a8a" stroke-width="0.8"/>
<rect x="363.60" y="354.30" width="14.70" height="32.70" fill="#5c5c5c" stroke="#333" stroke-width="0.6"/>
<line x1="370.95000000000005" y1="354.3" x2="370.95000000000005" y2="352.3" stroke="#444" stroke-width="0.7"/>
<line x1="369.35" y1="352.3" x2="372.55000000000007" y2="352.3" stroke="#444" stroke-width="0.7"/>
<rect x="378.30" y="313.92" width="14.70" height="73.08" fill="#b4b4b4" stroke="#333" stroke-width="0.6"/>
<line x1="385.65" y1="313.9155" x2="385.65" y2="306.9" stroke="#444" stroke-width="0.7"/>
<line x1="384.04999999999995" y1="306.9" x2="387.25" y2="306.9" stroke="#444" stroke-width="0.7"/>
<rect x="414.20" y="354.14" width="14.90" height="32.86" fill="#5c5c5c" stroke="#333" stroke-width="0.6"/>
<line x1="421.65" y1="354.1365" x2="421.65" y2="349.6" stroke="#444" stroke-width="0.7"/>
<line x1="420.04999999999995" y1="349.6" x2="423.25" y2="349.6" stroke="#444" stroke-width="0.7"/>
<rect x="429.10" y="304.60" width="14.50" height="82.40" fill="#b4b4b4" stroke="#333" stroke-width="0.6"/>
<line x1="436.35" y1="304.596" x2="436.35" y2="295.2" stroke="#444" stroke-width="0.7"/>
<line x1="434.75" y1="295.2" x2="437.95000000000005" y2="295.2" stroke="#444" stroke-width="0.7"/>
<text x="378.3" y="396.6" font-size="5.8" font-weight="bold" text-anchor="middle" fill="#000">VWF</text>
<text x="429" y="396.6" font-size="5.8" font-weight="bold" text-anchor="middle" fill="#000">Fibrinogen</text>
<text x="326.6" y="338" font-size="5.9" font-weight="bold" text-anchor="middle" fill="#222" transform="rotate(-90 326.6 338)" textLength="82.5" lengthAdjust="spacingAndGlyphs">Surface area (% of control)</text>
<rect x="455.30" y="296.80" width="3.40" height="3.40" fill="#5c5c5c" stroke="#222" stroke-width="0.5"/>
<text x="460.4" y="300.9" font-size="5.8" font-weight="bold" text-anchor="start" fill="#000">C</text>
<rect x="468.60" y="296.80" width="3.40" height="3.40" fill="#b4b4b4" stroke="#444" stroke-width="0.5"/>
<text x="473.7" y="300.9" font-size="5.8" font-weight="bold" text-anchor="start" fill="#000">II-2</text>
<text x="306.6" y="408.5" font-size="11" font-weight="bold" text-anchor="start" fill="#000" stroke="#000" stroke-width="0.3">G</text>
<line x1="351" y1="401.4" x2="351" y2="499.6" stroke="#8a8a8a" stroke-width="0.8"/>
<line x1="349" y1="499.6" x2="351" y2="499.6" stroke="#8a8a8a" stroke-width="0.7"/>
<text x="346.7" y="501.7" font-size="5.8" font-weight="bold" text-anchor="end" fill="#000">0</text>
<line x1="349" y1="479.96000000000004" x2="351" y2="479.96000000000004" stroke="#8a8a8a" stroke-width="0.7"/>
<text x="346.7" y="482.06" font-size="5.8" font-weight="bold" text-anchor="end" fill="#000">1</text>
<line x1="349" y1="460.32000000000005" x2="351" y2="460.32000000000005" stroke="#8a8a8a" stroke-width="0.7"/>
<text x="346.7" y="462.42" font-size="5.8" font-weight="bold" text-anchor="end" fill="#000">2</text>
<line x1="349" y1="440.68" x2="351" y2="440.68" stroke="#8a8a8a" stroke-width="0.7"/>
<text x="346.7" y="442.78" font-size="5.8" font-weight="bold" text-anchor="end" fill="#000">3</text>
<line x1="349" y1="421.04" x2="351" y2="421.04" stroke="#8a8a8a" stroke-width="0.7"/>
<text x="346.7" y="423.14" font-size="5.8" font-weight="bold" text-anchor="end" fill="#000">4</text>
<line x1="349" y1="401.40000000000003" x2="351" y2="401.40000000000003" stroke="#8a8a8a" stroke-width="0.7"/>
<text x="346.7" y="403.5" font-size="5.8" font-weight="bold" text-anchor="end" fill="#000">5</text>
<line x1="349" y1="499.6" x2="451.3" y2="499.6" stroke="#8a8a8a" stroke-width="0.8"/>
<rect x="362.50" y="422.61" width="14.50" height="76.99" fill="#5c5c5c" stroke="#333" stroke-width="0.6"/>
<line x1="369.75" y1="422.61120000000005" x2="369.75" y2="415.2" stroke="#444" stroke-width="0.7"/>
<line x1="368.15" y1="415.2" x2="371.35" y2="415.2" stroke="#444" stroke-width="0.7"/>
<rect x="377.00" y="465.11" width="15.00" height="34.49" fill="#b4b4b4" stroke="#333" stroke-width="0.6"/>
<line x1="384.5" y1="465.11216" x2="384.5" y2="459.4" stroke="#444" stroke-width="0.7"/>
<line x1="382.9" y1="459.4" x2="386.1" y2="459.4" stroke="#444" stroke-width="0.7"/>
<rect x="412.70" y="426.54" width="14.50" height="73.06" fill="#5c5c5c" stroke="#333" stroke-width="0.6"/>
<line x1="419.95" y1="426.53920000000005" x2="419.95" y2="419.8" stroke="#444" stroke-width="0.7"/>
<line x1="418.34999999999997" y1="419.8" x2="421.55" y2="419.8" stroke="#444" stroke-width="0.7"/>
<rect x="427.20" y="432.43" width="14.50" height="67.17" fill="#b4b4b4" stroke="#333" stroke-width="0.6"/>
<line x1="434.45" y1="432.4312" x2="434.45" y2="427.2" stroke="#444" stroke-width="0.7"/>
<line x1="432.84999999999997" y1="427.2" x2="436.05" y2="427.2" stroke="#444" stroke-width="0.7"/>
<text x="377" y="510.9" font-size="5.8" font-weight="bold" text-anchor="middle" fill="#000">VWF</text>
<text x="427.3" y="510.9" font-size="5.8" font-weight="bold" text-anchor="middle" fill="#000">Fibrinogen</text>
<text x="332.8" y="451.6" font-size="5.9" font-weight="bold" text-anchor="middle" fill="#222" transform="rotate(-90 332.8 451.6)" textLength="63.5" lengthAdjust="spacingAndGlyphs">F-actin to G-actin ratio</text>
<rect x="449.00" y="412.20" width="3.40" height="3.40" fill="#5c5c5c" stroke="#222" stroke-width="0.5"/>
<text x="454" y="416.3" font-size="5.8" font-weight="bold" text-anchor="start" fill="#000">C</text>
<rect x="461.70" y="412.20" width="3.40" height="3.40" fill="#b4b4b4" stroke="#444" stroke-width="0.5"/>
<text x="466.9" y="416.3" font-size="5.8" font-weight="bold" text-anchor="start" fill="#000">II-2</text>
</g>
</svg>
</body></html>
